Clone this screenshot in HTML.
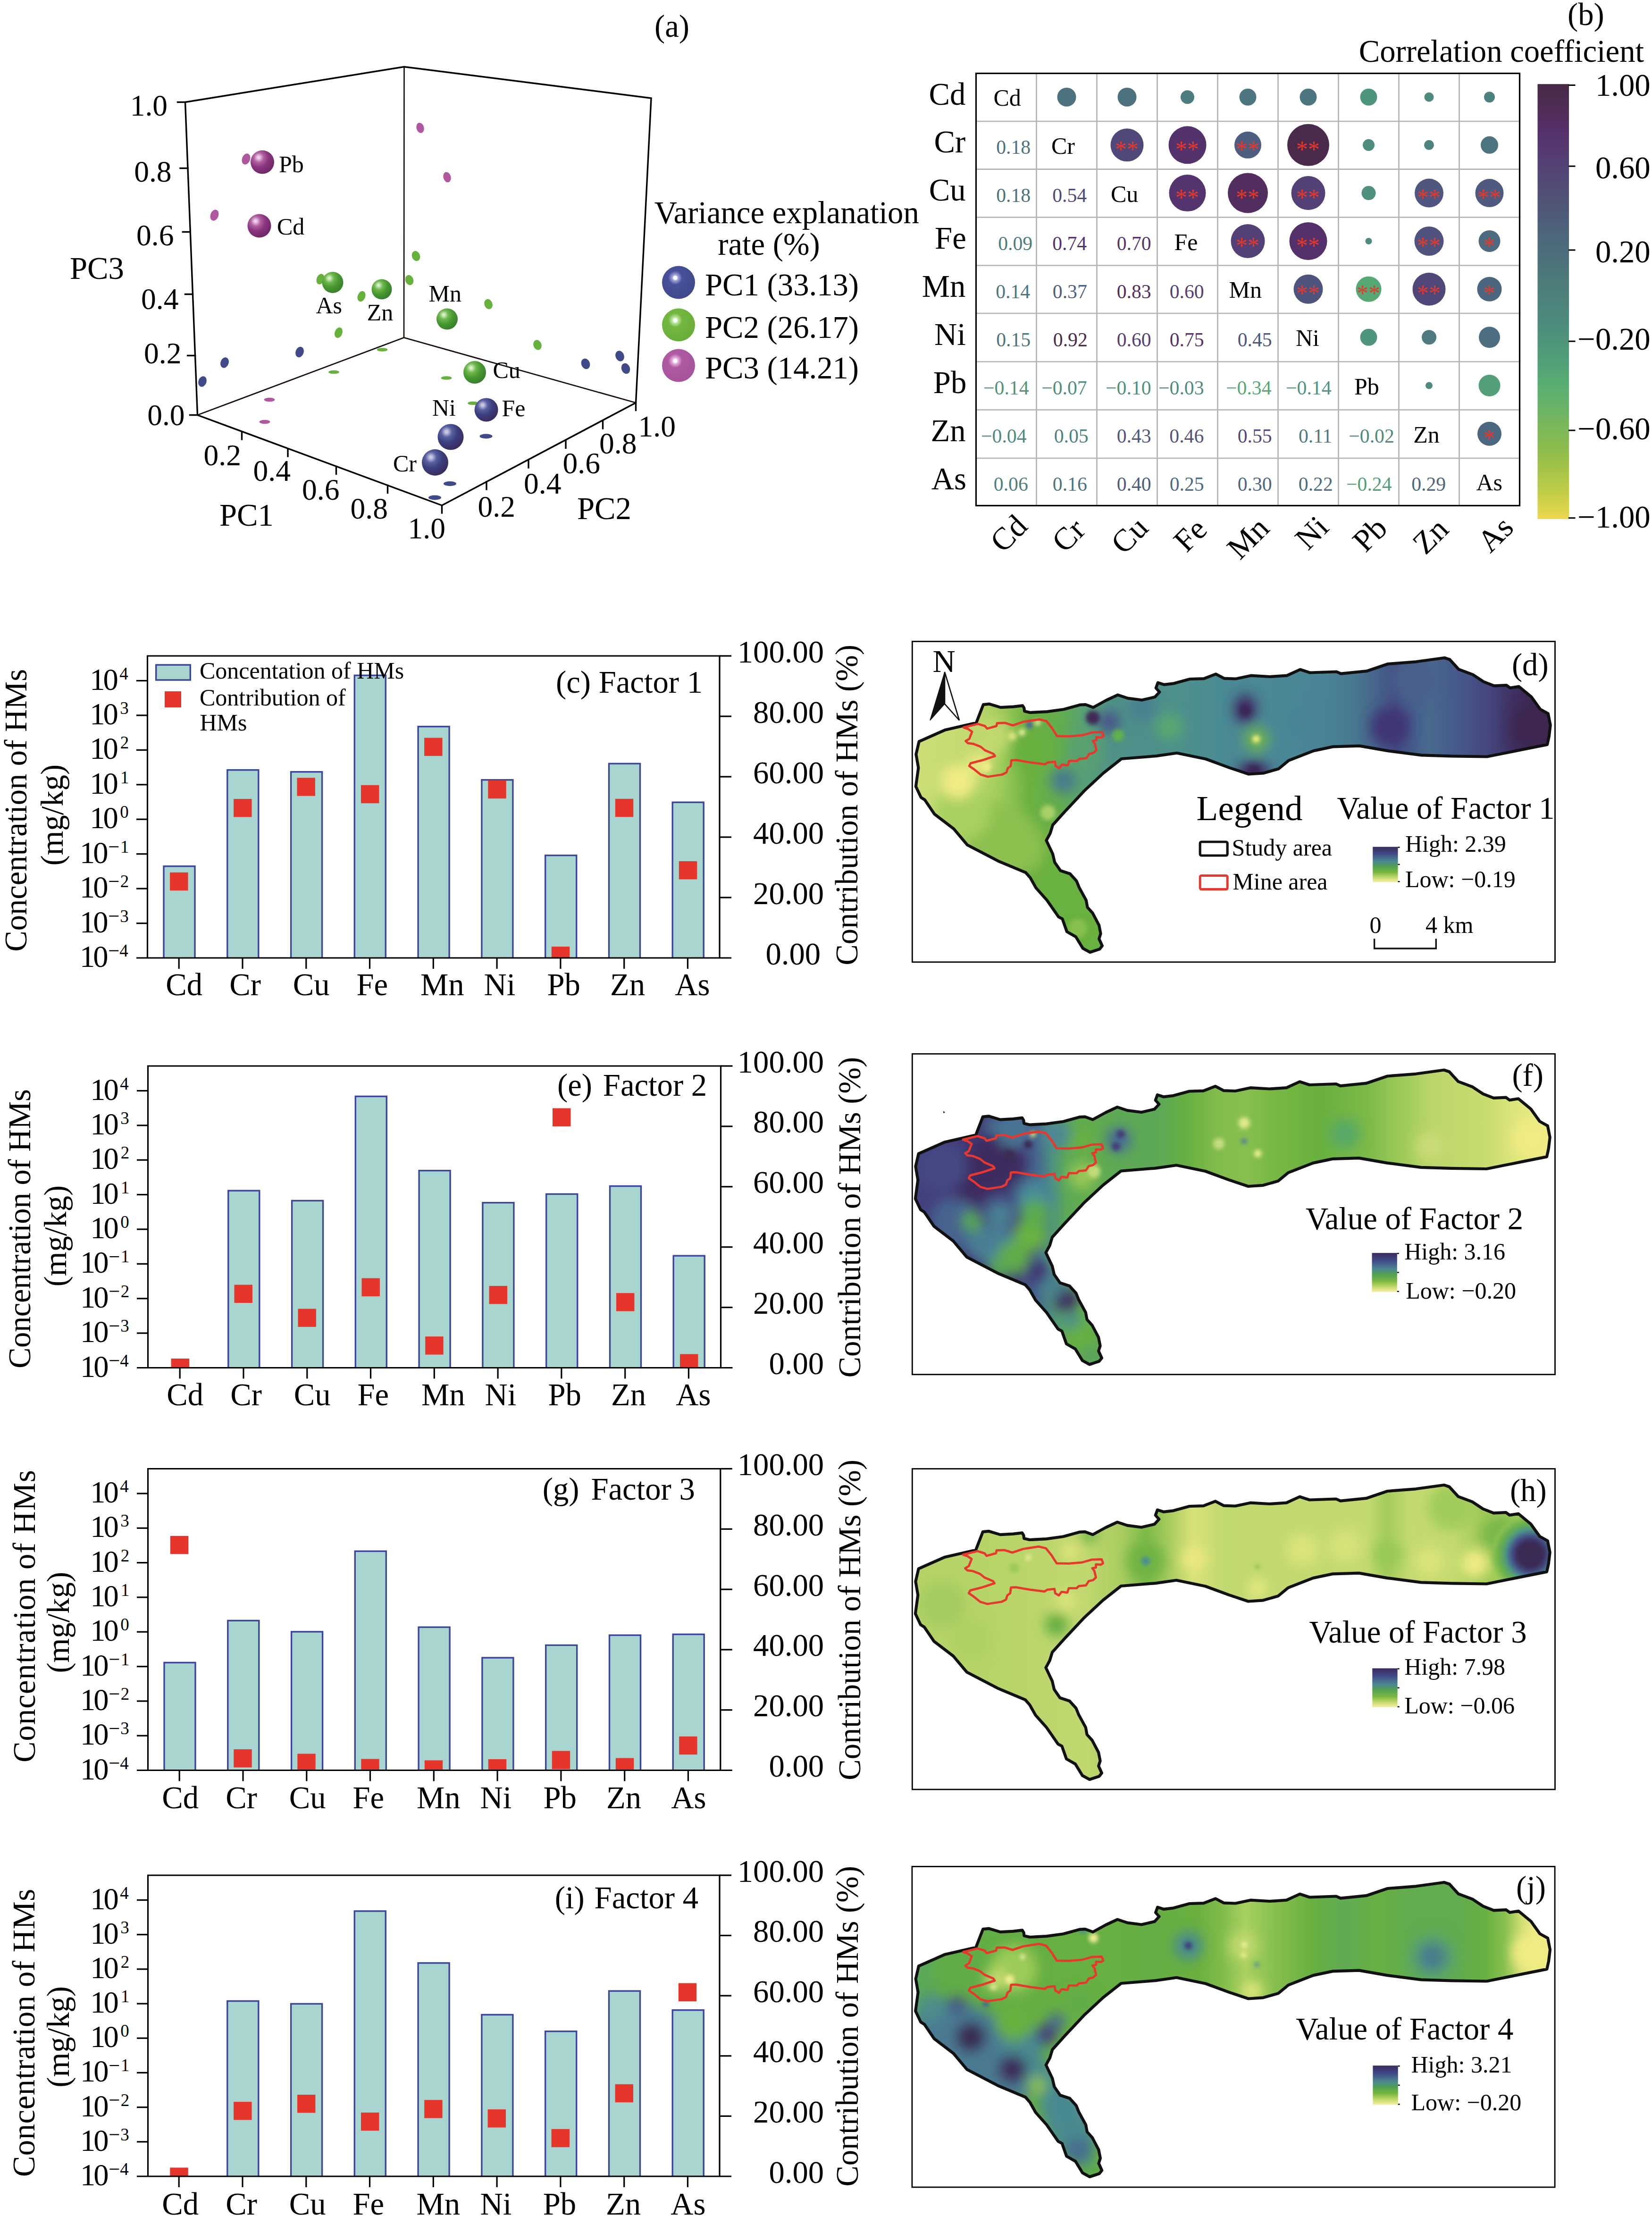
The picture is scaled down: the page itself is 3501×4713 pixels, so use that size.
<!DOCTYPE html>
<html><head><meta charset="utf-8"><title>figure</title><style>
html,body{margin:0;padding:0;background:#fff}
svg{display:block}
text{font-family:"Liberation Serif",serif}
</style></head><body>
<svg width="3501" height="4713" viewBox="0 0 3501 4713">
<rect width="3501" height="4713" fill="#fff"/>
<defs><radialGradient id="sB" cx="0.36" cy="0.32" r="0.75" fx="0.34" fy="0.30"><stop offset="0" stop-color="#c8c8e6"/><stop offset="0.06" stop-color="#c8c8e6"/><stop offset="0.28" stop-color="#5a5fa0"/><stop offset="0.55" stop-color="#3a3f80"/><stop offset="1" stop-color="#3c2858"/></radialGradient><radialGradient id="sG" cx="0.36" cy="0.32" r="0.75" fx="0.34" fy="0.30"><stop offset="0" stop-color="#d8f0c8"/><stop offset="0.06" stop-color="#d8f0c8"/><stop offset="0.28" stop-color="#6fb850"/><stop offset="0.55" stop-color="#4a9a32"/><stop offset="1" stop-color="#357a2a"/></radialGradient><radialGradient id="sP" cx="0.36" cy="0.32" r="0.75" fx="0.34" fy="0.30"><stop offset="0" stop-color="#f0d0ea"/><stop offset="0.06" stop-color="#f0d0ea"/><stop offset="0.28" stop-color="#b060a0"/><stop offset="0.55" stop-color="#8a3580"/><stop offset="1" stop-color="#6a2560"/></radialGradient><radialGradient id="lB" cx="0.40" cy="0.36" r="0.7" fx="0.40" fy="0.36"><stop offset="0" stop-color="#ffffff"/><stop offset="0.07" stop-color="#ffffff"/><stop offset="0.12" stop-color="#a8a8dc"/><stop offset="0.3" stop-color="#47509a"/><stop offset="1" stop-color="#3f4888"/></radialGradient><radialGradient id="lG" cx="0.40" cy="0.36" r="0.7" fx="0.40" fy="0.36"><stop offset="0" stop-color="#ffffff"/><stop offset="0.07" stop-color="#ffffff"/><stop offset="0.12" stop-color="#c0e8a8"/><stop offset="0.3" stop-color="#72b840"/><stop offset="1" stop-color="#68ac38"/></radialGradient><radialGradient id="lP" cx="0.40" cy="0.36" r="0.7" fx="0.40" fy="0.36"><stop offset="0" stop-color="#ffffff"/><stop offset="0.07" stop-color="#ffffff"/><stop offset="0.12" stop-color="#e8b8e0"/><stop offset="0.3" stop-color="#b05aa4"/><stop offset="1" stop-color="#a4529a"/></radialGradient><linearGradient id="cbar" x1="0" y1="0" x2="0" y2="1"><stop offset="0.0000" stop-color="#452a45"/><stop offset="0.0561" stop-color="#4f2d55"/><stop offset="0.1049" stop-color="#55306a"/><stop offset="0.1537" stop-color="#553a72"/><stop offset="0.2024" stop-color="#524575"/><stop offset="0.2512" stop-color="#505075"/><stop offset="0.3000" stop-color="#4e5a78"/><stop offset="0.3488" stop-color="#4c677a"/><stop offset="0.3976" stop-color="#4c707a"/><stop offset="0.4463" stop-color="#4c7a7a"/><stop offset="0.4951" stop-color="#4c827c"/><stop offset="0.5439" stop-color="#4c8a7c"/><stop offset="0.5927" stop-color="#4e947a"/><stop offset="0.6415" stop-color="#52a078"/><stop offset="0.6902" stop-color="#58ae72"/><stop offset="0.7390" stop-color="#68b268"/><stop offset="0.7878" stop-color="#7ab85a"/><stop offset="0.8366" stop-color="#8cbc4e"/><stop offset="0.8854" stop-color="#a4c448"/><stop offset="0.9341" stop-color="#c0cc48"/><stop offset="0.9829" stop-color="#e0d44c"/><stop offset="1.0000" stop-color="#f0d84e"/></linearGradient><clipPath id="clip1390"><rect x="312.5" y="1390" width="1212.5" height="640"/></clipPath><clipPath id="clip2259"><rect x="313.5" y="2259" width="1214.0" height="639.5"/></clipPath><clipPath id="clip3112"><rect x="313.5" y="3112.5" width="1213.3" height="639.0"/></clipPath><clipPath id="clip3974"><rect x="313.5" y="3974" width="1211.5" height="638"/></clipPath><clipPath id="mapclip"><polygon points="1947.7,1571.3 2003.5,1546.7 2068.9,1531.8 2083.9,1493.1 2096.2,1491.8 2120.7,1499.1 2147.9,1497.7 2167.0,1495.3 2170.3,1500.4 2171.1,1507.2 2183.3,1510.0 2218.8,1508.1 2254.2,1503.2 2289.6,1493.6 2300.5,1493.1 2316.8,1499.1 2344.1,1484.1 2368.9,1472.6 2390.0,1479.6 2420.0,1483.5 2447.5,1477.1 2457.3,1466.5 2449.7,1458.0 2453.9,1446.6 2466.6,1450.8 2487.8,1448.3 2521.7,1439.0 2551.4,1438.1 2576.8,1428.4 2594.0,1437.6 2619.0,1438.5 2650.8,1431.7 2691.7,1434.0 2727.3,1431.6 2755.4,1418.8 2776.1,1425.5 2832.4,1423.5 2841.7,1427.6 2896.2,1422.2 2941.2,1407.0 3001.2,1402.3 3061.3,1394.0 3072.6,1397.8 3091.3,1418.4 3121.3,1429.7 3143.9,1444.7 3166.4,1453.3 3192.6,1452.2 3200.2,1457.8 3218.9,1454.8 3245.2,1476.6 3264.0,1502.9 3280.8,1512.3 3285.7,1536.6 3282.7,1561.0 3279.0,1577.9 3226.4,1588.4 3151.4,1603.5 3076.3,1602.3 3012.5,1600.4 2941.2,1591.1 2881.1,1580.6 2824.9,1582.4 2783.6,1591.1 2731.0,1611.7 2709.8,1629.2 2678.0,1638.3 2646.3,1640.5 2605.4,1626.9 2555.6,1608.5 2494.2,1595.8 2449.7,1602.1 2376.7,1608.0 2338.6,1638.0 2297.7,1676.1 2256.9,1719.7 2231.0,1748.3 2225.6,1766.0 2217.4,1781.0 2231.0,1809.6 2235.1,1827.3 2247.4,1845.0 2267.8,1851.8 2281.4,1866.8 2286.9,1880.4 2301.8,1907.7 2304.6,1922.7 2315.5,1934.9 2329.1,1960.8 2332.6,1978.5 2329.1,1989.4 2335.9,2004.4 2330.4,2011.2 2310.0,2018.0 2295.0,2009.8 2280.0,1985.3 2261.0,1974.4 2251.4,1947.2 2243.3,1943.1 2218.8,1907.7 2195.6,1881.8 2183.3,1860.0 2173.8,1849.1 2115.2,1824.6 2049.9,1790.5 2021.3,1756.5 1980.4,1725.2 1960.0,1695.2 1951.8,1689.8 1940.9,1666.6 1946.3,1627.1 1941.4,1598.5"/></clipPath><filter id="bl18" x="-10%" y="-10%" width="120%" height="120%"><feGaussianBlur stdDeviation="13"/></filter><filter id="bl6" x="-10%" y="-10%" width="120%" height="120%"><feGaussianBlur stdDeviation="4"/></filter><linearGradient id="ramp" x1="0" y1="0" x2="0" y2="1"><stop offset="0" stop-color="#3a2a5c"/><stop offset="0.2" stop-color="#3f4a88"/><stop offset="0.42" stop-color="#4a8a90"/><stop offset="0.55" stop-color="#50a050"/><stop offset="0.72" stop-color="#78b840"/><stop offset="0.88" stop-color="#c8dc70"/><stop offset="1" stop-color="#f4f0a0"/></linearGradient><linearGradient id="bd" gradientUnits="userSpaceOnUse" x1="1940" y1="0" x2="3290" y2="0"><stop offset="0.0000" stop-color="#ccde78"/><stop offset="0.0815" stop-color="#c4da72"/><stop offset="0.1333" stop-color="#a0cc5c"/><stop offset="0.1778" stop-color="#6cb242"/><stop offset="0.2296" stop-color="#62ac50"/><stop offset="0.2667" stop-color="#58a078"/><stop offset="0.3111" stop-color="#4f9088"/><stop offset="0.4148" stop-color="#4e908c"/><stop offset="0.4889" stop-color="#4a8a94"/><stop offset="0.5630" stop-color="#4a8896"/><stop offset="0.6370" stop-color="#4a8496"/><stop offset="0.6889" stop-color="#487890"/><stop offset="0.7259" stop-color="#46628a"/><stop offset="0.7556" stop-color="#444c82"/><stop offset="0.7852" stop-color="#46608c"/><stop offset="0.8074" stop-color="#486a8e"/><stop offset="0.8519" stop-color="#46588a"/><stop offset="0.8963" stop-color="#44487e"/><stop offset="0.9407" stop-color="#402f62"/><stop offset="0.9778" stop-color="#3c2850"/><stop offset="1.0000" stop-color="#3c2850"/></linearGradient><linearGradient id="bf" gradientUnits="userSpaceOnUse" x1="1940" y1="0" x2="3290" y2="0"><stop offset="0.0000" stop-color="#44427e"/><stop offset="0.0889" stop-color="#403a78"/><stop offset="0.1630" stop-color="#42407c"/><stop offset="0.1926" stop-color="#46688e"/><stop offset="0.2148" stop-color="#4e9080"/><stop offset="0.2370" stop-color="#5ca858"/><stop offset="0.2667" stop-color="#62ac4c"/><stop offset="0.3111" stop-color="#5ea954"/><stop offset="0.3778" stop-color="#5ca858"/><stop offset="0.4296" stop-color="#68b040"/><stop offset="0.4741" stop-color="#80bc4c"/><stop offset="0.5185" stop-color="#88c050"/><stop offset="0.5630" stop-color="#78b844"/><stop offset="0.6370" stop-color="#68b040"/><stop offset="0.7111" stop-color="#7cba48"/><stop offset="0.7556" stop-color="#98c858"/><stop offset="0.8148" stop-color="#bcd66c"/><stop offset="0.8963" stop-color="#c8dc70"/><stop offset="0.9481" stop-color="#e0e67c"/><stop offset="1.0000" stop-color="#f0ec84"/></linearGradient><linearGradient id="bh" gradientUnits="userSpaceOnUse" x1="1940" y1="0" x2="3290" y2="0"><stop offset="0.0000" stop-color="#b4d268"/><stop offset="0.1185" stop-color="#b6d468"/><stop offset="0.2667" stop-color="#c0d870"/><stop offset="0.3259" stop-color="#a8cc60"/><stop offset="0.3630" stop-color="#7cba48"/><stop offset="0.4000" stop-color="#a8cc60"/><stop offset="0.4370" stop-color="#d8e278"/><stop offset="0.4889" stop-color="#c0d870"/><stop offset="0.7111" stop-color="#c4da70"/><stop offset="0.7407" stop-color="#a4cc5c"/><stop offset="0.7778" stop-color="#c4da70"/><stop offset="0.8444" stop-color="#c4da70"/><stop offset="0.8889" stop-color="#a0ca58"/><stop offset="1.0000" stop-color="#a0ca58"/></linearGradient><linearGradient id="bj" gradientUnits="userSpaceOnUse" x1="1940" y1="0" x2="3290" y2="0"><stop offset="0.0000" stop-color="#58a860"/><stop offset="0.0444" stop-color="#60ac48"/><stop offset="0.2667" stop-color="#68b040"/><stop offset="0.3778" stop-color="#66ae44"/><stop offset="0.4444" stop-color="#6ab040"/><stop offset="0.4815" stop-color="#80bc4c"/><stop offset="0.5185" stop-color="#a8d060"/><stop offset="0.5630" stop-color="#88c050"/><stop offset="0.6222" stop-color="#68b040"/><stop offset="0.6741" stop-color="#60aa54"/><stop offset="0.7259" stop-color="#68b040"/><stop offset="0.7778" stop-color="#62ac50"/><stop offset="0.8519" stop-color="#62ac50"/><stop offset="0.8963" stop-color="#68b040"/><stop offset="0.9259" stop-color="#88c050"/><stop offset="0.9519" stop-color="#d0de74"/><stop offset="0.9704" stop-color="#f0ec84"/><stop offset="1.0000" stop-color="#ecea80"/></linearGradient></defs>
<path d="M856.5,141.5 L856,715.5 M418.5,879.5 L856,715.5 L1347.5,853.5" stroke="#1a0f0a" stroke-width="2.7" fill="none"/>
<path d="M392.5,216.5 L856.5,141.5 L1380,208 L1347.5,853.5 L936.5,1071 L418.5,879.5 Z" stroke="#000" stroke-width="3.4" fill="none" stroke-linecap="square" stroke-linejoin="miter"/>
<path d="M376.5,216.5 L392.5,216.5" stroke="#000" stroke-width="3.4" fill="none" stroke-linecap="square"/>
<path d="M382.0,356.5 L398.0,356.5" stroke="#000" stroke-width="3.4" fill="none" stroke-linecap="square"/>
<path d="M387.3,491.5 L403.3,491.5" stroke="#000" stroke-width="3.4" fill="none" stroke-linecap="square"/>
<path d="M392.5,623.5 L408.5,623.5" stroke="#000" stroke-width="3.4" fill="none" stroke-linecap="square"/>
<path d="M397.6,753.5 L413.6,753.5" stroke="#000" stroke-width="3.4" fill="none" stroke-linecap="square"/>
<path d="M402.5,879.5 L418.5,879.5" stroke="#000" stroke-width="3.4" fill="none" stroke-linecap="square"/>
<path d="M512.5,915 L512.5,931" stroke="#000" stroke-width="3.4" fill="none" stroke-linecap="square"/>
<path d="M610,951 L610,967" stroke="#000" stroke-width="3.4" fill="none" stroke-linecap="square"/>
<path d="M712.5,988.5 L712.5,1004.5" stroke="#000" stroke-width="3.4" fill="none" stroke-linecap="square"/>
<path d="M821.5,1028.5 L821.5,1044.5" stroke="#000" stroke-width="3.4" fill="none" stroke-linecap="square"/>
<path d="M936.5,1071 L936.5,1087" stroke="#000" stroke-width="3.4" fill="none" stroke-linecap="square"/>
<path d="M1031,1021 L1031,1037" stroke="#000" stroke-width="3.4" fill="none" stroke-linecap="square"/>
<path d="M1120,975 L1120,991" stroke="#000" stroke-width="3.4" fill="none" stroke-linecap="square"/>
<path d="M1199,933.5 L1199,949.5" stroke="#000" stroke-width="3.4" fill="none" stroke-linecap="square"/>
<path d="M1277.5,892 L1277.5,908" stroke="#000" stroke-width="3.4" fill="none" stroke-linecap="square"/>
<path d="M1347.5,853.5 L1347.5,869.5" stroke="#000" stroke-width="3.4" fill="none" stroke-linecap="square"/>
<text x="275.7" y="245.0" font-size="63.5">1.0</text>
<text x="284.2" y="385.0" font-size="63.5">0.8</text>
<text x="289.0" y="520.0" font-size="63.5">0.6</text>
<text x="299.1" y="654.5" font-size="63.5">0.4</text>
<text x="305.1" y="770.0" font-size="63.5">0.2</text>
<text x="312.2" y="901.0" font-size="63.5">0.0</text>
<text x="431.5" y="986.0" font-size="63.5">0.2</text>
<text x="536.5" y="1018.5" font-size="63.5">0.4</text>
<text x="640.0" y="1058.5" font-size="63.5">0.6</text>
<text x="742.5" y="1098.5" font-size="63.5">0.8</text>
<text x="864.6" y="1141.0" font-size="63.5">1.0</text>
<text x="1012.5" y="1095.0" font-size="63.5">0.2</text>
<text x="1110.0" y="1046.0" font-size="63.5">0.4</text>
<text x="1192.5" y="1002.5" font-size="63.5">0.6</text>
<text x="1270.0" y="961.0" font-size="63.5">0.8</text>
<text x="1352.6" y="924.5" font-size="63.5">1.0</text>
<text x="148.0" y="591.0" font-size="66.7">PC3</text>
<text x="465.0" y="1114.0" font-size="66.7">PC1</text>
<text x="1223.0" y="1100.0" font-size="66.7">PC2</text>
<text x="1387.0" y="77.5" font-size="66.7">(a)</text>
<ellipse cx="429" cy="808.5" rx="8.5" ry="11.5" fill="#404a88" transform="rotate(20 429 808.5)"/>
<ellipse cx="476" cy="768.5" rx="8.5" ry="11.5" fill="#404a88" transform="rotate(20 476 768.5)"/>
<ellipse cx="635" cy="746" rx="8.5" ry="11.5" fill="#404a88" transform="rotate(20 635 746)"/>
<ellipse cx="1241" cy="771" rx="9" ry="11.5" fill="#404a88" transform="rotate(-20 1241 771)"/>
<ellipse cx="1313.5" cy="754.5" rx="9" ry="11.5" fill="#404a88" transform="rotate(-20 1313.5 754.5)"/>
<ellipse cx="1326" cy="781" rx="9" ry="11.5" fill="#404a88" transform="rotate(-20 1326 781)"/>
<ellipse cx="717.5" cy="705" rx="8" ry="11.5" fill="#66b03c" transform="rotate(20 717.5 705)"/>
<ellipse cx="766" cy="628" rx="8" ry="11.5" fill="#66b03c" transform="rotate(20 766 628)"/>
<ellipse cx="679" cy="591.5" rx="8" ry="11.5" fill="#66b03c" transform="rotate(20 679 591.5)"/>
<ellipse cx="867.5" cy="593.5" rx="8.5" ry="11" fill="#66b03c" transform="rotate(-20 867.5 593.5)"/>
<ellipse cx="881.5" cy="542.5" rx="8.5" ry="11" fill="#66b03c" transform="rotate(-20 881.5 542.5)"/>
<ellipse cx="1035" cy="644.5" rx="8.5" ry="11" fill="#66b03c" transform="rotate(-20 1035 644.5)"/>
<ellipse cx="1139" cy="731" rx="8.5" ry="11" fill="#66b03c" transform="rotate(-20 1139 731)"/>
<ellipse cx="521.5" cy="337" rx="8.5" ry="12" fill="#b0589f" transform="rotate(20 521.5 337)"/>
<ellipse cx="454.5" cy="456" rx="8.5" ry="12" fill="#b0589f" transform="rotate(20 454.5 456)"/>
<ellipse cx="890.5" cy="271" rx="8" ry="11" fill="#b0589f" transform="rotate(-15 890.5 271)"/>
<ellipse cx="947.5" cy="375.5" rx="8" ry="11" fill="#b0589f" transform="rotate(-15 947.5 375.5)"/>
<ellipse cx="810" cy="741" rx="11.5" ry="3.8" fill="#66b03c"/>
<ellipse cx="707.5" cy="788.5" rx="11.5" ry="3.8" fill="#66b03c"/>
<ellipse cx="946" cy="801" rx="11.5" ry="3.8" fill="#66b03c"/>
<ellipse cx="1002.5" cy="854.5" rx="11.5" ry="3.8" fill="#66b03c"/>
<ellipse cx="571" cy="847" rx="11.5" ry="4.2" fill="#b0589f"/>
<ellipse cx="561" cy="894" rx="11.5" ry="4.2" fill="#b0589f"/>
<ellipse cx="1030" cy="924.5" rx="13.5" ry="5" fill="#404a88"/>
<ellipse cx="953.5" cy="1025" rx="13.5" ry="5" fill="#404a88"/>
<ellipse cx="921.5" cy="1054.5" rx="13.5" ry="5" fill="#404a88"/>
<circle cx="556" cy="343.5" r="25" fill="url(#sP)"/>
<circle cx="549.5" cy="478.5" r="25" fill="url(#sP)"/>
<circle cx="705" cy="598.5" r="22.5" fill="url(#sG)"/>
<circle cx="809" cy="613" r="21.5" fill="url(#sG)"/>
<circle cx="947.5" cy="676" r="22.5" fill="url(#sG)"/>
<circle cx="1006" cy="789" r="24" fill="url(#sG)"/>
<circle cx="1030.6" cy="868.4" r="25" fill="url(#sB)"/>
<circle cx="955" cy="926" r="27.5" fill="url(#sB)"/>
<circle cx="922" cy="980" r="28" fill="url(#sB)"/>
<text x="591.0" y="365.0" font-size="50">Pb</text>
<text x="587.0" y="496.5" font-size="50">Cd</text>
<text x="669.5" y="663.5" font-size="50">As</text>
<text x="777.8" y="678.5" font-size="50">Zn</text>
<text x="908.5" y="638.5" font-size="50">Mn</text>
<text x="1044.5" y="801.0" font-size="50">Cu</text>
<text x="916.0" y="881.0" font-size="50">Ni</text>
<text x="1063.5" y="882.0" font-size="50">Fe</text>
<text x="833.0" y="998.5" font-size="50">Cr</text>
<text x="1386.8" y="472.5" font-size="66.7">Variance explanation</text>
<text x="1521.2" y="540.0" font-size="66.7">rate (%)</text>
<circle cx="1438" cy="598.5" r="35" fill="url(#lB)"/>
<text x="1494.0" y="626.0" font-size="66.7">PC1 (33.13)</text>
<circle cx="1438" cy="688.5" r="35" fill="url(#lG)"/>
<text x="1494.0" y="716.0" font-size="66.7">PC2 (26.17)</text>
<circle cx="1438" cy="774.5" r="35" fill="url(#lP)"/>
<text x="1494.0" y="802.0" font-size="66.7">PC3 (14.21)</text>
<path d="M2196.5,155.5 V1071.5 M2324.5,155.5 V1071.5 M2452.5,155.5 V1071.5 M2580.5,155.5 V1071.5 M2708.5,155.5 V1071.5 M2836.5,155.5 V1071.5 M2964.5,155.5 V1071.5 M3092.5,155.5 V1071.5 M2068.5,257 H3220.5 M2068.5,358.7 H3220.5 M2068.5,460.5 H3220.5 M2068.5,562.5 H3220.5 M2068.5,664 H3220.5 M2068.5,766.5 H3220.5 M2068.5,868.5 H3220.5 M2068.5,971 H3220.5 " stroke="#b9b1ad" stroke-width="2.7" fill="none"/>
<rect x="2068.5" y="155.5" width="1152.0" height="916.0" fill="none" stroke="#000" stroke-width="3.2"/>
<text x="1968.5" y="221.8" font-size="66.7">Cd</text>
<text x="2105.5" y="224.2" font-size="50">Cd</text>
<circle cx="2260.5" cy="205.75" r="20" fill="#4c7280"/>
<circle cx="2388.5" cy="205.75" r="20" fill="#4c7280"/>
<circle cx="2516.5" cy="205.75" r="14.5" fill="#4d7d80"/>
<circle cx="2644.5" cy="205.75" r="18" fill="#4d7780"/>
<circle cx="2772.5" cy="205.75" r="18" fill="#4c7680"/>
<circle cx="2900.5" cy="205.75" r="18" fill="#4f947c"/>
<circle cx="3028.5" cy="205.75" r="10" fill="#4e8b7f"/>
<circle cx="3156.5" cy="205.75" r="11.5" fill="#4d8180"/>
<text x="1979.5" y="323.4" font-size="66.7">Cr</text>
<text x="2111.2" y="326.4" font-size="41.7" fill="#4c7280">0.18</text>
<text x="2228.0" y="325.9" font-size="50">Cr</text>
<circle cx="2388.5" cy="307.35" r="35" fill="#51487a"/>
<text x="2363.0" y="332.9" font-size="50" fill="#e8382a">**</text>
<circle cx="2516.5" cy="307.35" r="40" fill="#54326b"/>
<text x="2491.0" y="332.9" font-size="50" fill="#e8382a">**</text>
<circle cx="2644.5" cy="307.35" r="28.5" fill="#4d5e80"/>
<text x="2619.0" y="332.9" font-size="50" fill="#e8382a">**</text>
<circle cx="2772.5" cy="307.35" r="44.5" fill="#4b2b4c"/>
<text x="2747.0" y="332.9" font-size="50" fill="#e8382a">**</text>
<circle cx="2900.5" cy="307.35" r="12.5" fill="#4f8e7f"/>
<circle cx="3028.5" cy="307.35" r="10.5" fill="#4e8280"/>
<circle cx="3156.5" cy="307.35" r="18.5" fill="#4c7580"/>
<text x="1968.8" y="425.1" font-size="66.7">Cu</text>
<text x="2111.2" y="428.1" font-size="41.7" fill="#4c7280">0.18</text>
<text x="2230.2" y="428.1" font-size="41.7" fill="#51487a">0.54</text>
<text x="2354.0" y="427.6" font-size="50">Cu</text>
<circle cx="2516.5" cy="409.1" r="39" fill="#54346e"/>
<text x="2491.0" y="434.6" font-size="50" fill="#e8382a">**</text>
<circle cx="2644.5" cy="409.1" r="42.5" fill="#522d5f"/>
<text x="2619.0" y="434.6" font-size="50" fill="#e8382a">**</text>
<circle cx="2772.5" cy="409.1" r="36" fill="#524076"/>
<text x="2747.0" y="434.6" font-size="50" fill="#e8382a">**</text>
<circle cx="2900.5" cy="409.1" r="15" fill="#4f907e"/>
<circle cx="3028.5" cy="409.1" r="30.5" fill="#4f567f"/>
<text x="3003.0" y="434.6" font-size="50" fill="#e8382a">**</text>
<circle cx="3156.5" cy="409.1" r="30" fill="#4e5a80"/>
<text x="3131.0" y="434.6" font-size="50" fill="#e8382a">**</text>
<text x="1981.1" y="527.0" font-size="66.7">Fe</text>
<text x="2115.2" y="530.0" font-size="41.7" fill="#4d7d80">0.09</text>
<text x="2230.2" y="530.0" font-size="41.7" fill="#54326b">0.74</text>
<text x="2366.7" y="530.0" font-size="41.7" fill="#54346e">0.70</text>
<text x="2488.5" y="529.5" font-size="50">Fe</text>
<circle cx="2644.5" cy="511.0" r="36" fill="#524076"/>
<text x="2619.0" y="536.5" font-size="50" fill="#e8382a">**</text>
<circle cx="2772.5" cy="511.0" r="40" fill="#54316a"/>
<text x="2747.0" y="536.5" font-size="50" fill="#e8382a">**</text>
<circle cx="2900.5" cy="511.0" r="7" fill="#4e8a7f"/>
<circle cx="3028.5" cy="511.0" r="31" fill="#4f537e"/>
<text x="3003.0" y="536.5" font-size="50" fill="#e8382a">**</text>
<circle cx="3156.5" cy="511.0" r="23" fill="#4c6b80"/>
<text x="3143.5" y="536.5" font-size="50" fill="#e8382a">*</text>
<text x="1953.8" y="628.8" font-size="66.7">Mn</text>
<text x="2110.2" y="631.8" font-size="41.7" fill="#4d7780">0.14</text>
<text x="2230.8" y="631.8" font-size="41.7" fill="#4d5e80">0.37</text>
<text x="2366.7" y="631.8" font-size="41.7" fill="#522d5f">0.83</text>
<text x="2478.7" y="631.8" font-size="41.7" fill="#524076">0.60</text>
<text x="2604.5" y="631.2" font-size="50">Mn</text>
<circle cx="2772.5" cy="612.75" r="31" fill="#4f547e"/>
<text x="2747.0" y="638.2" font-size="50" fill="#e8382a">**</text>
<circle cx="2900.5" cy="612.75" r="27" fill="#56a974"/>
<text x="2875.0" y="638.2" font-size="50" fill="#e8382a">**</text>
<circle cx="3028.5" cy="612.75" r="35" fill="#514779"/>
<text x="3003.0" y="638.2" font-size="50" fill="#e8382a">**</text>
<circle cx="3156.5" cy="612.75" r="26" fill="#4c6680"/>
<text x="3143.5" y="638.2" font-size="50" fill="#e8382a">*</text>
<text x="1980.1" y="730.8" font-size="66.7">Ni</text>
<text x="2111.2" y="733.8" font-size="41.7" fill="#4c7680">0.15</text>
<text x="2231.8" y="733.8" font-size="41.7" fill="#4b2b4c">0.92</text>
<text x="2366.7" y="733.8" font-size="41.7" fill="#524076">0.60</text>
<text x="2478.7" y="733.8" font-size="41.7" fill="#54316a">0.75</text>
<text x="2622.7" y="733.8" font-size="41.7" fill="#4f547e">0.45</text>
<text x="2746.0" y="733.2" font-size="50">Ni</text>
<circle cx="2900.5" cy="714.75" r="18" fill="#4f947c"/>
<circle cx="3028.5" cy="714.75" r="15.5" fill="#4d7b80"/>
<circle cx="3156.5" cy="714.75" r="22.5" fill="#4c6e80"/>
<text x="1977.8" y="833.0" font-size="66.7">Pb</text>
<text x="2084.1" y="836.0" font-size="41.7" fill="#4f947c">−0.14</text>
<text x="2207.2" y="836.0" font-size="41.7" fill="#4f8e7f">−0.07</text>
<text x="2343.1" y="836.0" font-size="41.7" fill="#4f907e">−0.10</text>
<text x="2455.1" y="836.0" font-size="41.7" fill="#4e8a7f">−0.03</text>
<text x="2598.1" y="836.0" font-size="41.7" fill="#56a974">−0.34</text>
<text x="2725.1" y="836.0" font-size="41.7" fill="#4f947c">−0.14</text>
<text x="2870.0" y="835.5" font-size="50">Pb</text>
<circle cx="3028.5" cy="817.0" r="7.5" fill="#4e8a80"/>
<circle cx="3156.5" cy="817.0" r="23" fill="#529f78"/>
<text x="1972.5" y="935.2" font-size="66.7">Zn</text>
<text x="2079.1" y="938.2" font-size="41.7" fill="#4e8b7f">−0.04</text>
<text x="2233.7" y="938.2" font-size="41.7" fill="#4e8280">0.05</text>
<text x="2366.7" y="938.2" font-size="41.7" fill="#4f567f">0.43</text>
<text x="2478.3" y="938.2" font-size="41.7" fill="#4f537e">0.46</text>
<text x="2622.7" y="938.2" font-size="41.7" fill="#514779">0.55</text>
<text x="2752.0" y="938.2" font-size="41.7" fill="#4d7b80">0.11</text>
<text x="2858.3" y="938.2" font-size="41.7" fill="#4e8a80">−0.02</text>
<text x="2995.2" y="937.8" font-size="50">Zn</text>
<circle cx="3156.5" cy="919.25" r="25.5" fill="#4c6780"/>
<text x="3143.5" y="944.8" font-size="50" fill="#e8382a">*</text>
<text x="1973.8" y="1036.8" font-size="66.7">As</text>
<text x="2105.8" y="1039.8" font-size="41.7" fill="#4d8180">0.06</text>
<text x="2230.8" y="1039.8" font-size="41.7" fill="#4c7580">0.16</text>
<text x="2366.7" y="1039.8" font-size="41.7" fill="#4e5a80">0.40</text>
<text x="2478.7" y="1039.8" font-size="41.7" fill="#4c6b80">0.25</text>
<text x="2622.7" y="1039.8" font-size="41.7" fill="#4c6680">0.30</text>
<text x="2751.8" y="1039.8" font-size="41.7" fill="#4c6e80">0.22</text>
<text x="2853.1" y="1039.8" font-size="41.7" fill="#529f78">−0.24</text>
<text x="2991.2" y="1039.8" font-size="41.7" fill="#4c6780">0.29</text>
<text x="3128.5" y="1039.2" font-size="50">As</text>
<text transform="translate(2140.5,1132) rotate(-45)" x="-39.9" y="19" font-size="66.7">Cd</text>
<text transform="translate(2267.5,1136) rotate(-45)" x="-34.4" y="19" font-size="66.7">Cr</text>
<text transform="translate(2396.5,1136) rotate(-45)" x="-39.7" y="19" font-size="66.7">Cu</text>
<text transform="translate(2524.5,1136) rotate(-45)" x="-33.2" y="19" font-size="66.7">Fe</text>
<text transform="translate(2647.5,1142) rotate(-45)" x="-46.9" y="19" font-size="66.7">Mn</text>
<text transform="translate(2782.5,1131) rotate(-45)" x="-33.7" y="19" font-size="66.7">Ni</text>
<text transform="translate(2905.0,1135) rotate(-45)" x="-34.9" y="19" font-size="66.7">Pb</text>
<text transform="translate(3034.5,1137.5) rotate(-45)" x="-38.0" y="19" font-size="66.7">Zn</text>
<text transform="translate(3170.5,1135) rotate(-45)" x="-36.2" y="19" font-size="66.7">As</text>
<rect x="3258.5" y="178.2" width="66.5" height="921.8" fill="url(#cbar)"/>
<path d="M3324,180.5 H3338.5" stroke="#000" stroke-width="3"/>
<text x="3380.9" y="203.0" font-size="66.7">1.00</text>
<path d="M3324,352.2 H3338.5" stroke="#000" stroke-width="3"/>
<text x="3380.9" y="378.3" font-size="66.7">0.60</text>
<path d="M3324,529.9 H3338.5" stroke="#000" stroke-width="3"/>
<text x="3380.9" y="556.0" font-size="66.7">0.20</text>
<path d="M3324,723.2 H3338.5" stroke="#000" stroke-width="3"/>
<text x="3343.3" y="741.2" font-size="66.7">−0.20</text>
<path d="M3324,912 H3338.5" stroke="#000" stroke-width="3"/>
<text x="3343.3" y="931.4" font-size="66.7">−0.60</text>
<path d="M3324,1097.7 H3338.5" stroke="#000" stroke-width="3"/>
<text x="3343.3" y="1118.0" font-size="66.7">−1.00</text>
<text x="3322.0" y="52.5" font-size="66.7">(b)</text>
<text x="2879.8" y="131.0" font-size="66.7">Correlation coefficient</text>
<rect x="347.0" y="1835.7" width="66" height="200.0" fill="#a9d5d1" stroke="#3c479b" stroke-width="3.4" clip-path="url(#clip1390)"/>
<rect x="481.8" y="1631.7" width="66" height="404.0" fill="#a9d5d1" stroke="#3c479b" stroke-width="3.4" clip-path="url(#clip1390)"/>
<rect x="616.6" y="1635.7" width="66" height="400.0" fill="#a9d5d1" stroke="#3c479b" stroke-width="3.4" clip-path="url(#clip1390)"/>
<rect x="751.3" y="1431.2" width="66" height="604.5" fill="#a9d5d1" stroke="#3c479b" stroke-width="3.4" clip-path="url(#clip1390)"/>
<rect x="886.1" y="1539.7" width="66" height="496.0" fill="#a9d5d1" stroke="#3c479b" stroke-width="3.4" clip-path="url(#clip1390)"/>
<rect x="1020.9" y="1652.7" width="66" height="383.0" fill="#a9d5d1" stroke="#3c479b" stroke-width="3.4" clip-path="url(#clip1390)"/>
<rect x="1155.7" y="1812.7" width="66" height="223.0" fill="#a9d5d1" stroke="#3c479b" stroke-width="3.4" clip-path="url(#clip1390)"/>
<rect x="1290.5" y="1618.2" width="66" height="417.5" fill="#a9d5d1" stroke="#3c479b" stroke-width="3.4" clip-path="url(#clip1390)"/>
<rect x="1425.2" y="1700.2" width="66" height="335.5" fill="#a9d5d1" stroke="#3c479b" stroke-width="3.4" clip-path="url(#clip1390)"/>
<rect x="330.7" y="1409" width="72.6" height="32" fill="#a9d5d1" stroke="#3c479b" stroke-width="3.4"/>
<rect x="349" y="1465" width="35" height="34" fill="#e6352b"/>
<text x="423.0" y="1437.5" font-size="50">Concentation of HMs</text>
<text x="423.0" y="1495.0" font-size="50">Contribution of</text>
<text x="423.5" y="1547.5" font-size="50">HMs</text>
<rect x="360.1" y="1848.8" width="38.4" height="38.4" fill="#e6352b" clip-path="url(#clip1390)"/>
<rect x="495.1" y="1693.0" width="38.4" height="38.4" fill="#e6352b" clip-path="url(#clip1390)"/>
<rect x="629.5" y="1648.3" width="38.4" height="38.4" fill="#e6352b" clip-path="url(#clip1390)"/>
<rect x="765.0" y="1663.8" width="38.4" height="38.4" fill="#e6352b" clip-path="url(#clip1390)"/>
<rect x="899.1" y="1563.5" width="38.4" height="38.4" fill="#e6352b" clip-path="url(#clip1390)"/>
<rect x="1034.3" y="1653.8" width="38.4" height="38.4" fill="#e6352b" clip-path="url(#clip1390)"/>
<rect x="1168.8" y="2006.0" width="38.4" height="38.4" fill="#e6352b" clip-path="url(#clip1390)"/>
<rect x="1303.8" y="1692.8" width="38.4" height="38.4" fill="#e6352b" clip-path="url(#clip1390)"/>
<rect x="1438.8" y="1825.0" width="38.4" height="38.4" fill="#e6352b" clip-path="url(#clip1390)"/>
<path d="M312.5,2030 V1390 H1525 V2030" stroke="#000" stroke-width="3.2" fill="none"/>
<path d="M289.0,2030 H1550" stroke="#000" stroke-width="3.2" fill="none"/>
<path d="M289.0,1442.5 H312.5" stroke="#000" stroke-width="3.2" fill="none"/>
<text x="253.3" y="1439.5" font-size="37">4</text>
<text x="190.3" y="1461.5" font-size="64.5" letter-spacing="-4">10</text>
<path d="M289.0,1515.9 H312.5" stroke="#000" stroke-width="3.2" fill="none"/>
<text x="254.2" y="1512.9" font-size="37">3</text>
<text x="190.3" y="1534.9" font-size="64.5" letter-spacing="-4">10</text>
<path d="M289.0,1589.4 H312.5" stroke="#000" stroke-width="3.2" fill="none"/>
<text x="254.7" y="1586.4" font-size="37">2</text>
<text x="190.3" y="1608.4" font-size="64.5" letter-spacing="-4">10</text>
<path d="M289.0,1662.8 H312.5" stroke="#000" stroke-width="3.2" fill="none"/>
<text x="254.9" y="1659.8" font-size="37">1</text>
<text x="190.3" y="1681.8" font-size="64.5" letter-spacing="-4">10</text>
<path d="M289.0,1736.2 H312.5" stroke="#000" stroke-width="3.2" fill="none"/>
<text x="254.2" y="1733.2" font-size="37">0</text>
<text x="190.3" y="1755.2" font-size="64.5" letter-spacing="-4">10</text>
<path d="M289.0,1809.7 H312.5" stroke="#000" stroke-width="3.2" fill="none"/>
<text x="254.9" y="1806.7" font-size="37">1</text>
<rect x="231.4" y="1793.3" width="19.9" height="2.3" fill="#000"/>
<text x="168.9" y="1828.7" font-size="64.5" letter-spacing="-4">10</text>
<path d="M289.0,1883.1 H312.5" stroke="#000" stroke-width="3.2" fill="none"/>
<text x="254.7" y="1880.1" font-size="37">2</text>
<rect x="231.4" y="1866.7" width="19.9" height="2.3" fill="#000"/>
<text x="168.9" y="1902.1" font-size="64.5" letter-spacing="-4">10</text>
<path d="M289.0,1956.6 H312.5" stroke="#000" stroke-width="3.2" fill="none"/>
<text x="254.2" y="1953.6" font-size="37">3</text>
<rect x="231.4" y="1940.2" width="19.9" height="2.3" fill="#000"/>
<text x="168.9" y="1975.6" font-size="64.5" letter-spacing="-4">10</text>
<text x="253.3" y="2027.0" font-size="37">4</text>
<rect x="231.4" y="2013.6" width="19.9" height="2.3" fill="#000"/>
<text x="168.9" y="2049.0" font-size="64.5" letter-spacing="-4">10</text>
<path d="M1525,1390.0 H1550" stroke="#000" stroke-width="3.2" fill="none"/>
<text x="1562.7" y="1403.5" font-size="66.7">100.00</text>
<path d="M1525,1518.0 H1550" stroke="#000" stroke-width="3.2" fill="none"/>
<text x="1596.1" y="1531.5" font-size="66.7">80.00</text>
<path d="M1525,1646.0 H1550" stroke="#000" stroke-width="3.2" fill="none"/>
<text x="1596.1" y="1659.5" font-size="66.7">60.00</text>
<path d="M1525,1774.0 H1550" stroke="#000" stroke-width="3.2" fill="none"/>
<text x="1596.1" y="1787.5" font-size="66.7">40.00</text>
<path d="M1525,1902.0 H1550" stroke="#000" stroke-width="3.2" fill="none"/>
<text x="1596.1" y="1915.5" font-size="66.7">20.00</text>
<text x="1622.4" y="2043.5" font-size="66.7">0.00</text>
<path d="M379.2,2030 V2053" stroke="#000" stroke-width="3.2" fill="none"/>
<text x="351.3" y="2109.0" font-size="66.7">Cd</text>
<path d="M514.0,2030 V2053" stroke="#000" stroke-width="3.2" fill="none"/>
<text x="486.3" y="2109.0" font-size="66.7">Cr</text>
<path d="M648.8,2030 V2053" stroke="#000" stroke-width="3.2" fill="none"/>
<text x="620.8" y="2109.0" font-size="66.7">Cu</text>
<path d="M783.5,2030 V2053" stroke="#000" stroke-width="3.2" fill="none"/>
<text x="755.5" y="2109.0" font-size="66.7">Fe</text>
<path d="M918.3,2030 V2053" stroke="#000" stroke-width="3.2" fill="none"/>
<text x="890.9" y="2109.0" font-size="66.7">Mn</text>
<path d="M1053.1,2030 V2053" stroke="#000" stroke-width="3.2" fill="none"/>
<text x="1025.5" y="2109.0" font-size="66.7">Ni</text>
<path d="M1187.9,2030 V2053" stroke="#000" stroke-width="3.2" fill="none"/>
<text x="1159.5" y="2109.0" font-size="66.7">Pb</text>
<path d="M1322.7,2030 V2053" stroke="#000" stroke-width="3.2" fill="none"/>
<text x="1293.0" y="2109.0" font-size="66.7">Zn</text>
<path d="M1457.4,2030 V2053" stroke="#000" stroke-width="3.2" fill="none"/>
<text x="1430.3" y="2109.0" font-size="66.7">As</text>
<text x="1178.0" y="1467.5" font-size="66.7">(c) Factor 1</text>
<text transform="translate(56,1717) rotate(-90)" x="-299.7" y="0" font-size="66.7" textLength="598.9" lengthAdjust="spacing">Concentration of HMs</text>
<text transform="translate(132.5,1727) rotate(-90)" x="-107.6" y="0" font-size="66.7">(mg/kg)</text>
<text transform="translate(1817,1706.0) rotate(-90)" x="-339.8" y="0" font-size="66.7">Contribution of HMs (%)</text>
<rect x="483.8" y="2523.2" width="66" height="381.0" fill="#a9d5d1" stroke="#3c479b" stroke-width="3.4" clip-path="url(#clip2259)"/>
<rect x="618.6" y="2544.4" width="66" height="359.8" fill="#a9d5d1" stroke="#3c479b" stroke-width="3.4" clip-path="url(#clip2259)"/>
<rect x="753.3" y="2323.4" width="66" height="580.8" fill="#a9d5d1" stroke="#3c479b" stroke-width="3.4" clip-path="url(#clip2259)"/>
<rect x="888.1" y="2480.7" width="66" height="423.5" fill="#a9d5d1" stroke="#3c479b" stroke-width="3.4" clip-path="url(#clip2259)"/>
<rect x="1022.9" y="2548.7" width="66" height="355.5" fill="#a9d5d1" stroke="#3c479b" stroke-width="3.4" clip-path="url(#clip2259)"/>
<rect x="1157.7" y="2530.4" width="66" height="373.8" fill="#a9d5d1" stroke="#3c479b" stroke-width="3.4" clip-path="url(#clip2259)"/>
<rect x="1292.5" y="2513.5" width="66" height="390.7" fill="#a9d5d1" stroke="#3c479b" stroke-width="3.4" clip-path="url(#clip2259)"/>
<rect x="1427.2" y="2661.2" width="66" height="243.0" fill="#a9d5d1" stroke="#3c479b" stroke-width="3.4" clip-path="url(#clip2259)"/>
<rect x="362.6" y="2879.0" width="38.4" height="38.4" fill="#e6352b" clip-path="url(#clip2259)"/>
<rect x="496.5" y="2722.6" width="38.4" height="38.4" fill="#e6352b" clip-path="url(#clip2259)"/>
<rect x="631.5" y="2773.5" width="38.4" height="38.4" fill="#e6352b" clip-path="url(#clip2259)"/>
<rect x="766.5" y="2708.7" width="38.4" height="38.4" fill="#e6352b" clip-path="url(#clip2259)"/>
<rect x="901.2" y="2832.2" width="38.4" height="38.4" fill="#e6352b" clip-path="url(#clip2259)"/>
<rect x="1036.6" y="2725.0" width="38.4" height="38.4" fill="#e6352b" clip-path="url(#clip2259)"/>
<rect x="1171.0" y="2348.5" width="38.4" height="38.4" fill="#e6352b" clip-path="url(#clip2259)"/>
<rect x="1306.0" y="2740.2" width="38.4" height="38.4" fill="#e6352b" clip-path="url(#clip2259)"/>
<rect x="1441.0" y="2869.5" width="38.4" height="38.4" fill="#e6352b" clip-path="url(#clip2259)"/>
<path d="M313.5,2898.5 V2259 H1527.5 V2898.5" stroke="#000" stroke-width="3.2" fill="none"/>
<path d="M290.0,2898.5 H1552.5" stroke="#000" stroke-width="3.2" fill="none"/>
<path d="M290.0,2311.5 H313.5" stroke="#000" stroke-width="3.2" fill="none"/>
<text x="254.3" y="2308.5" font-size="37">4</text>
<text x="191.3" y="2330.5" font-size="64.5" letter-spacing="-4">10</text>
<path d="M290.0,2384.9 H313.5" stroke="#000" stroke-width="3.2" fill="none"/>
<text x="255.2" y="2381.9" font-size="37">3</text>
<text x="191.3" y="2403.9" font-size="64.5" letter-spacing="-4">10</text>
<path d="M290.0,2458.2 H313.5" stroke="#000" stroke-width="3.2" fill="none"/>
<text x="255.7" y="2455.2" font-size="37">2</text>
<text x="191.3" y="2477.2" font-size="64.5" letter-spacing="-4">10</text>
<path d="M290.0,2531.6 H313.5" stroke="#000" stroke-width="3.2" fill="none"/>
<text x="255.9" y="2528.6" font-size="37">1</text>
<text x="191.3" y="2550.6" font-size="64.5" letter-spacing="-4">10</text>
<path d="M290.0,2605.0 H313.5" stroke="#000" stroke-width="3.2" fill="none"/>
<text x="255.2" y="2602.0" font-size="37">0</text>
<text x="191.3" y="2624.0" font-size="64.5" letter-spacing="-4">10</text>
<path d="M290.0,2678.4 H313.5" stroke="#000" stroke-width="3.2" fill="none"/>
<text x="255.9" y="2675.4" font-size="37">1</text>
<rect x="232.4" y="2662.0" width="19.9" height="2.3" fill="#000"/>
<text x="169.9" y="2697.4" font-size="64.5" letter-spacing="-4">10</text>
<path d="M290.0,2751.8 H313.5" stroke="#000" stroke-width="3.2" fill="none"/>
<text x="255.7" y="2748.8" font-size="37">2</text>
<rect x="232.4" y="2735.3" width="19.9" height="2.3" fill="#000"/>
<text x="169.9" y="2770.8" font-size="64.5" letter-spacing="-4">10</text>
<path d="M290.0,2825.1 H313.5" stroke="#000" stroke-width="3.2" fill="none"/>
<text x="255.2" y="2822.1" font-size="37">3</text>
<rect x="232.4" y="2808.7" width="19.9" height="2.3" fill="#000"/>
<text x="169.9" y="2844.1" font-size="64.5" letter-spacing="-4">10</text>
<text x="254.3" y="2895.5" font-size="37">4</text>
<rect x="232.4" y="2882.1" width="19.9" height="2.3" fill="#000"/>
<text x="169.9" y="2917.5" font-size="64.5" letter-spacing="-4">10</text>
<path d="M1527.5,2259.0 H1552.5" stroke="#000" stroke-width="3.2" fill="none"/>
<text x="1562.7" y="2272.5" font-size="66.7">100.00</text>
<path d="M1527.5,2386.9 H1552.5" stroke="#000" stroke-width="3.2" fill="none"/>
<text x="1596.1" y="2400.4" font-size="66.7">80.00</text>
<path d="M1527.5,2514.8 H1552.5" stroke="#000" stroke-width="3.2" fill="none"/>
<text x="1596.1" y="2528.3" font-size="66.7">60.00</text>
<path d="M1527.5,2642.7 H1552.5" stroke="#000" stroke-width="3.2" fill="none"/>
<text x="1596.1" y="2656.2" font-size="66.7">40.00</text>
<path d="M1527.5,2770.6 H1552.5" stroke="#000" stroke-width="3.2" fill="none"/>
<text x="1596.1" y="2784.1" font-size="66.7">20.00</text>
<text x="1629.4" y="2912.0" font-size="66.7">0.00</text>
<path d="M381.2,2898.5 V2921.5" stroke="#000" stroke-width="3.2" fill="none"/>
<text x="353.3" y="2977.5" font-size="66.7">Cd</text>
<path d="M516.0,2898.5 V2921.5" stroke="#000" stroke-width="3.2" fill="none"/>
<text x="488.3" y="2977.5" font-size="66.7">Cr</text>
<path d="M650.8,2898.5 V2921.5" stroke="#000" stroke-width="3.2" fill="none"/>
<text x="622.8" y="2977.5" font-size="66.7">Cu</text>
<path d="M785.5,2898.5 V2921.5" stroke="#000" stroke-width="3.2" fill="none"/>
<text x="757.5" y="2977.5" font-size="66.7">Fe</text>
<path d="M920.3,2898.5 V2921.5" stroke="#000" stroke-width="3.2" fill="none"/>
<text x="892.9" y="2977.5" font-size="66.7">Mn</text>
<path d="M1055.1,2898.5 V2921.5" stroke="#000" stroke-width="3.2" fill="none"/>
<text x="1027.5" y="2977.5" font-size="66.7">Ni</text>
<path d="M1189.9,2898.5 V2921.5" stroke="#000" stroke-width="3.2" fill="none"/>
<text x="1161.5" y="2977.5" font-size="66.7">Pb</text>
<path d="M1324.7,2898.5 V2921.5" stroke="#000" stroke-width="3.2" fill="none"/>
<text x="1295.0" y="2977.5" font-size="66.7">Zn</text>
<path d="M1459.4,2898.5 V2921.5" stroke="#000" stroke-width="3.2" fill="none"/>
<text x="1432.3" y="2977.5" font-size="66.7">As</text>
<text x="1181.0" y="2321.7" font-size="66.7">(e)</text>
<text x="1277.8" y="2321.7" font-size="66.7">Factor 2</text>
<text transform="translate(63.5,2603.9) rotate(-90)" x="-296.2" y="0" font-size="66.7" textLength="592.0" lengthAdjust="spacing">Concentration of HMs</text>
<text transform="translate(139.5,2619) rotate(-90)" x="-107.6" y="0" font-size="66.7">(mg/kg)</text>
<text transform="translate(1822.5,2579.75) rotate(-90)" x="-339.8" y="0" font-size="66.7">Contribution of HMs (%)</text>
<rect x="348.0" y="3523.3" width="66" height="233.9" fill="#a9d5d1" stroke="#3c479b" stroke-width="3.4" clip-path="url(#clip3112)"/>
<rect x="482.8" y="3434.3" width="66" height="322.9" fill="#a9d5d1" stroke="#3c479b" stroke-width="3.4" clip-path="url(#clip3112)"/>
<rect x="617.6" y="3457.9" width="66" height="299.3" fill="#a9d5d1" stroke="#3c479b" stroke-width="3.4" clip-path="url(#clip3112)"/>
<rect x="752.3" y="3287.2" width="66" height="470.0" fill="#a9d5d1" stroke="#3c479b" stroke-width="3.4" clip-path="url(#clip3112)"/>
<rect x="887.1" y="3448.2" width="66" height="309.0" fill="#a9d5d1" stroke="#3c479b" stroke-width="3.4" clip-path="url(#clip3112)"/>
<rect x="1021.9" y="3513.0" width="66" height="244.2" fill="#a9d5d1" stroke="#3c479b" stroke-width="3.4" clip-path="url(#clip3112)"/>
<rect x="1156.7" y="3486.4" width="66" height="270.8" fill="#a9d5d1" stroke="#3c479b" stroke-width="3.4" clip-path="url(#clip3112)"/>
<rect x="1291.5" y="3465.2" width="66" height="292.0" fill="#a9d5d1" stroke="#3c479b" stroke-width="3.4" clip-path="url(#clip3112)"/>
<rect x="1426.2" y="3463.4" width="66" height="293.8" fill="#a9d5d1" stroke="#3c479b" stroke-width="3.4" clip-path="url(#clip3112)"/>
<rect x="360.8" y="3254.8" width="38.4" height="38.4" fill="#e6352b" clip-path="url(#clip3112)"/>
<rect x="495.3" y="3707.0" width="38.4" height="38.4" fill="#e6352b" clip-path="url(#clip3112)"/>
<rect x="630.3" y="3716.5" width="38.4" height="38.4" fill="#e6352b" clip-path="url(#clip3112)"/>
<rect x="765.3" y="3727.5" width="38.4" height="38.4" fill="#e6352b" clip-path="url(#clip3112)"/>
<rect x="899.8" y="3730.4" width="38.4" height="38.4" fill="#e6352b" clip-path="url(#clip3112)"/>
<rect x="1034.8" y="3728.0" width="38.4" height="38.4" fill="#e6352b" clip-path="url(#clip3112)"/>
<rect x="1169.8" y="3710.5" width="38.4" height="38.4" fill="#e6352b" clip-path="url(#clip3112)"/>
<rect x="1304.8" y="3725.6" width="38.4" height="38.4" fill="#e6352b" clip-path="url(#clip3112)"/>
<rect x="1439.2" y="3679.8" width="38.4" height="38.4" fill="#e6352b" clip-path="url(#clip3112)"/>
<path d="M313.5,3751.5 V3112.5 H1526.8 V3751.5" stroke="#000" stroke-width="3.2" fill="none"/>
<path d="M290.0,3751.5 H1551.8" stroke="#000" stroke-width="3.2" fill="none"/>
<path d="M290.0,3165.0 H313.5" stroke="#000" stroke-width="3.2" fill="none"/>
<text x="254.3" y="3162.0" font-size="37">4</text>
<text x="191.3" y="3184.0" font-size="64.5" letter-spacing="-4">10</text>
<path d="M290.0,3238.3 H313.5" stroke="#000" stroke-width="3.2" fill="none"/>
<text x="255.2" y="3235.3" font-size="37">3</text>
<text x="191.3" y="3257.3" font-size="64.5" letter-spacing="-4">10</text>
<path d="M290.0,3311.6 H313.5" stroke="#000" stroke-width="3.2" fill="none"/>
<text x="255.7" y="3308.6" font-size="37">2</text>
<text x="191.3" y="3330.6" font-size="64.5" letter-spacing="-4">10</text>
<path d="M290.0,3384.9 H313.5" stroke="#000" stroke-width="3.2" fill="none"/>
<text x="255.9" y="3381.9" font-size="37">1</text>
<text x="191.3" y="3403.9" font-size="64.5" letter-spacing="-4">10</text>
<path d="M290.0,3458.2 H313.5" stroke="#000" stroke-width="3.2" fill="none"/>
<text x="255.2" y="3455.2" font-size="37">0</text>
<text x="191.3" y="3477.2" font-size="64.5" letter-spacing="-4">10</text>
<path d="M290.0,3531.6 H313.5" stroke="#000" stroke-width="3.2" fill="none"/>
<text x="255.9" y="3528.6" font-size="37">1</text>
<rect x="232.4" y="3515.2" width="19.9" height="2.3" fill="#000"/>
<text x="169.9" y="3550.6" font-size="64.5" letter-spacing="-4">10</text>
<path d="M290.0,3604.9 H313.5" stroke="#000" stroke-width="3.2" fill="none"/>
<text x="255.7" y="3601.9" font-size="37">2</text>
<rect x="232.4" y="3588.5" width="19.9" height="2.3" fill="#000"/>
<text x="169.9" y="3623.9" font-size="64.5" letter-spacing="-4">10</text>
<path d="M290.0,3678.2 H313.5" stroke="#000" stroke-width="3.2" fill="none"/>
<text x="255.2" y="3675.2" font-size="37">3</text>
<rect x="232.4" y="3661.8" width="19.9" height="2.3" fill="#000"/>
<text x="169.9" y="3697.2" font-size="64.5" letter-spacing="-4">10</text>
<text x="254.3" y="3748.5" font-size="37">4</text>
<rect x="232.4" y="3735.1" width="19.9" height="2.3" fill="#000"/>
<text x="169.9" y="3770.5" font-size="64.5" letter-spacing="-4">10</text>
<path d="M1526.8,3112.5 H1551.8" stroke="#000" stroke-width="3.2" fill="none"/>
<text x="1562.7" y="3126.0" font-size="66.7">100.00</text>
<path d="M1526.8,3240.3 H1551.8" stroke="#000" stroke-width="3.2" fill="none"/>
<text x="1596.1" y="3253.8" font-size="66.7">80.00</text>
<path d="M1526.8,3368.1 H1551.8" stroke="#000" stroke-width="3.2" fill="none"/>
<text x="1596.1" y="3381.6" font-size="66.7">60.00</text>
<path d="M1526.8,3495.9 H1551.8" stroke="#000" stroke-width="3.2" fill="none"/>
<text x="1596.1" y="3509.4" font-size="66.7">40.00</text>
<path d="M1526.8,3623.7 H1551.8" stroke="#000" stroke-width="3.2" fill="none"/>
<text x="1596.1" y="3637.2" font-size="66.7">20.00</text>
<text x="1629.4" y="3765.0" font-size="66.7">0.00</text>
<path d="M380.2,3751.5 V3774.5" stroke="#000" stroke-width="3.2" fill="none"/>
<text x="343.3" y="3832.0" font-size="66.7">Cd</text>
<path d="M515.0,3751.5 V3774.5" stroke="#000" stroke-width="3.2" fill="none"/>
<text x="478.3" y="3832.0" font-size="66.7">Cr</text>
<path d="M649.8,3751.5 V3774.5" stroke="#000" stroke-width="3.2" fill="none"/>
<text x="612.8" y="3832.0" font-size="66.7">Cu</text>
<path d="M784.5,3751.5 V3774.5" stroke="#000" stroke-width="3.2" fill="none"/>
<text x="747.5" y="3832.0" font-size="66.7">Fe</text>
<path d="M919.3,3751.5 V3774.5" stroke="#000" stroke-width="3.2" fill="none"/>
<text x="882.9" y="3832.0" font-size="66.7">Mn</text>
<path d="M1054.1,3751.5 V3774.5" stroke="#000" stroke-width="3.2" fill="none"/>
<text x="1017.5" y="3832.0" font-size="66.7">Ni</text>
<path d="M1188.9,3751.5 V3774.5" stroke="#000" stroke-width="3.2" fill="none"/>
<text x="1151.5" y="3832.0" font-size="66.7">Pb</text>
<path d="M1323.7,3751.5 V3774.5" stroke="#000" stroke-width="3.2" fill="none"/>
<text x="1285.0" y="3832.0" font-size="66.7">Zn</text>
<path d="M1458.4,3751.5 V3774.5" stroke="#000" stroke-width="3.2" fill="none"/>
<text x="1422.3" y="3832.0" font-size="66.7">As</text>
<text x="1149.7" y="3177.8" font-size="66.7">(g)</text>
<text x="1252.4" y="3177.8" font-size="66.7">Factor 3</text>
<text transform="translate(73.8,3424.9) rotate(-90)" x="-310.1" y="0" font-size="66.7" textLength="619.8" lengthAdjust="spacing">Concentration of HMs</text>
<text transform="translate(146,3438) rotate(-90)" x="-107.6" y="0" font-size="66.7">(mg/kg)</text>
<text transform="translate(1822.5,3433.0) rotate(-90)" x="-339.8" y="0" font-size="66.7">Contribution of HMs (%)</text>
<rect x="481.8" y="4240.5" width="66" height="377.2" fill="#a9d5d1" stroke="#3c479b" stroke-width="3.4" clip-path="url(#clip3974)"/>
<rect x="616.6" y="4246.4" width="66" height="371.3" fill="#a9d5d1" stroke="#3c479b" stroke-width="3.4" clip-path="url(#clip3974)"/>
<rect x="751.3" y="4049.9" width="66" height="567.8" fill="#a9d5d1" stroke="#3c479b" stroke-width="3.4" clip-path="url(#clip3974)"/>
<rect x="886.1" y="4159.9" width="66" height="457.8" fill="#a9d5d1" stroke="#3c479b" stroke-width="3.4" clip-path="url(#clip3974)"/>
<rect x="1020.9" y="4269.5" width="66" height="348.2" fill="#a9d5d1" stroke="#3c479b" stroke-width="3.4" clip-path="url(#clip3974)"/>
<rect x="1155.7" y="4304.7" width="66" height="313.0" fill="#a9d5d1" stroke="#3c479b" stroke-width="3.4" clip-path="url(#clip3974)"/>
<rect x="1290.5" y="4219.2" width="66" height="398.5" fill="#a9d5d1" stroke="#3c479b" stroke-width="3.4" clip-path="url(#clip3974)"/>
<rect x="1425.2" y="4259.7" width="66" height="358.0" fill="#a9d5d1" stroke="#3c479b" stroke-width="3.4" clip-path="url(#clip3974)"/>
<rect x="360.3" y="4593.5" width="38.4" height="38.4" fill="#e6352b" clip-path="url(#clip3974)"/>
<rect x="495.1" y="4454.1" width="38.4" height="38.4" fill="#e6352b" clip-path="url(#clip3974)"/>
<rect x="630.0" y="4439.0" width="38.4" height="38.4" fill="#e6352b" clip-path="url(#clip3974)"/>
<rect x="765.0" y="4476.8" width="38.4" height="38.4" fill="#e6352b" clip-path="url(#clip3974)"/>
<rect x="899.2" y="4450.2" width="38.4" height="38.4" fill="#e6352b" clip-path="url(#clip3974)"/>
<rect x="1033.6" y="4470.1" width="38.4" height="38.4" fill="#e6352b" clip-path="url(#clip3974)"/>
<rect x="1168.6" y="4511.8" width="38.4" height="38.4" fill="#e6352b" clip-path="url(#clip3974)"/>
<rect x="1303.6" y="4416.8" width="38.4" height="38.4" fill="#e6352b" clip-path="url(#clip3974)"/>
<rect x="1437.8" y="4202.6" width="38.4" height="38.4" fill="#e6352b" clip-path="url(#clip3974)"/>
<path d="M313.5,4612 V3974 H1525 V4612" stroke="#000" stroke-width="3.2" fill="none"/>
<path d="M290.0,4612 H1550" stroke="#000" stroke-width="3.2" fill="none"/>
<path d="M290.0,4026.5 H313.5" stroke="#000" stroke-width="3.2" fill="none"/>
<text x="254.3" y="4023.5" font-size="37">4</text>
<text x="191.3" y="4045.5" font-size="64.5" letter-spacing="-4">10</text>
<path d="M290.0,4099.7 H313.5" stroke="#000" stroke-width="3.2" fill="none"/>
<text x="255.2" y="4096.7" font-size="37">3</text>
<text x="191.3" y="4118.7" font-size="64.5" letter-spacing="-4">10</text>
<path d="M290.0,4172.9 H313.5" stroke="#000" stroke-width="3.2" fill="none"/>
<text x="255.7" y="4169.9" font-size="37">2</text>
<text x="191.3" y="4191.9" font-size="64.5" letter-spacing="-4">10</text>
<path d="M290.0,4246.1 H313.5" stroke="#000" stroke-width="3.2" fill="none"/>
<text x="255.9" y="4243.1" font-size="37">1</text>
<text x="191.3" y="4265.1" font-size="64.5" letter-spacing="-4">10</text>
<path d="M290.0,4319.2 H313.5" stroke="#000" stroke-width="3.2" fill="none"/>
<text x="255.2" y="4316.2" font-size="37">0</text>
<text x="191.3" y="4338.2" font-size="64.5" letter-spacing="-4">10</text>
<path d="M290.0,4392.4 H313.5" stroke="#000" stroke-width="3.2" fill="none"/>
<text x="255.9" y="4389.4" font-size="37">1</text>
<rect x="232.4" y="4376.0" width="19.9" height="2.3" fill="#000"/>
<text x="169.9" y="4411.4" font-size="64.5" letter-spacing="-4">10</text>
<path d="M290.0,4465.6 H313.5" stroke="#000" stroke-width="3.2" fill="none"/>
<text x="255.7" y="4462.6" font-size="37">2</text>
<rect x="232.4" y="4449.2" width="19.9" height="2.3" fill="#000"/>
<text x="169.9" y="4484.6" font-size="64.5" letter-spacing="-4">10</text>
<path d="M290.0,4538.8 H313.5" stroke="#000" stroke-width="3.2" fill="none"/>
<text x="255.2" y="4535.8" font-size="37">3</text>
<rect x="232.4" y="4522.4" width="19.9" height="2.3" fill="#000"/>
<text x="169.9" y="4557.8" font-size="64.5" letter-spacing="-4">10</text>
<text x="254.3" y="4609.0" font-size="37">4</text>
<rect x="232.4" y="4595.6" width="19.9" height="2.3" fill="#000"/>
<text x="169.9" y="4631.0" font-size="64.5" letter-spacing="-4">10</text>
<path d="M1525,3974.0 H1550" stroke="#000" stroke-width="3.2" fill="none"/>
<text x="1562.7" y="3987.5" font-size="66.7">100.00</text>
<path d="M1525,4101.6 H1550" stroke="#000" stroke-width="3.2" fill="none"/>
<text x="1596.1" y="4115.1" font-size="66.7">80.00</text>
<path d="M1525,4229.2 H1550" stroke="#000" stroke-width="3.2" fill="none"/>
<text x="1596.1" y="4242.7" font-size="66.7">60.00</text>
<path d="M1525,4356.8 H1550" stroke="#000" stroke-width="3.2" fill="none"/>
<text x="1596.1" y="4370.3" font-size="66.7">40.00</text>
<path d="M1525,4484.4 H1550" stroke="#000" stroke-width="3.2" fill="none"/>
<text x="1596.1" y="4497.9" font-size="66.7">20.00</text>
<text x="1629.4" y="4625.5" font-size="66.7">0.00</text>
<path d="M379.2,4612 V4635" stroke="#000" stroke-width="3.2" fill="none"/>
<text x="343.3" y="4692.5" font-size="66.7">Cd</text>
<path d="M514.0,4612 V4635" stroke="#000" stroke-width="3.2" fill="none"/>
<text x="478.3" y="4692.5" font-size="66.7">Cr</text>
<path d="M648.8,4612 V4635" stroke="#000" stroke-width="3.2" fill="none"/>
<text x="612.8" y="4692.5" font-size="66.7">Cu</text>
<path d="M783.5,4612 V4635" stroke="#000" stroke-width="3.2" fill="none"/>
<text x="747.5" y="4692.5" font-size="66.7">Fe</text>
<path d="M918.3,4612 V4635" stroke="#000" stroke-width="3.2" fill="none"/>
<text x="882.5" y="4692.5" font-size="66.7">Mn</text>
<path d="M1053.1,4612 V4635" stroke="#000" stroke-width="3.2" fill="none"/>
<text x="1017.5" y="4692.5" font-size="66.7">Ni</text>
<path d="M1187.9,4612 V4635" stroke="#000" stroke-width="3.2" fill="none"/>
<text x="1150.7" y="4692.5" font-size="66.7">Pb</text>
<path d="M1322.7,4612 V4635" stroke="#000" stroke-width="3.2" fill="none"/>
<text x="1284.0" y="4692.5" font-size="66.7">Zn</text>
<path d="M1457.4,4612 V4635" stroke="#000" stroke-width="3.2" fill="none"/>
<text x="1421.3" y="4692.5" font-size="66.7">As</text>
<text x="1175.7" y="4043.8" font-size="66.7">(i)</text>
<text x="1259.6" y="4043.8" font-size="66.7">Factor 4</text>
<text transform="translate(73.4,4307.8) rotate(-90)" x="-305.5" y="0" font-size="66.7" textLength="610.6" lengthAdjust="spacing">Concentration of HMs</text>
<text transform="translate(146,4316.2) rotate(-90)" x="-107.6" y="0" font-size="66.7">(mg/kg)</text>
<text transform="translate(1817.5,4294.0) rotate(-90)" x="-339.8" y="0" font-size="66.7">Contribution of HMs (%)</text>
<rect x="1933.3" y="1359.3" width="1362.2" height="679.5" fill="none" stroke="#000" stroke-width="2.8"/>
<g transform="translate(0,0)">
<g clip-path="url(#mapclip)"><rect x="1930" y="1380" width="1370" height="650" fill="url(#bd)"/><g filter="url(#bl18)"><ellipse cx="2270" cy="1900" rx="120" ry="170" fill="#69b13f" opacity="1" transform="rotate(0 2270 1900)"/><ellipse cx="2120" cy="1775" rx="100" ry="70" fill="#8cc050" opacity="1" transform="rotate(30 2120 1775)"/><circle cx="2040" cy="1720" r="60" fill="#a8d060" opacity="1"/><circle cx="2030" cy="1657" r="36" fill="#f0ec84" opacity="1"/><circle cx="2075" cy="1615" r="25" fill="#e8e880" opacity="1"/><circle cx="2100" cy="1560" r="40" fill="#c0d870" opacity="1"/><circle cx="2190" cy="1590" r="45" fill="#68b040" opacity="1"/><circle cx="2254" cy="1654" r="28" fill="#4a7a90" opacity="1"/><circle cx="2350" cy="1530" r="22" fill="#46508a" opacity="1"/><circle cx="2300" cy="1590" r="35" fill="#58a070" opacity="1"/><circle cx="2478" cy="1540" r="28" fill="#5aa870" opacity="1"/><circle cx="2420" cy="1500" r="30" fill="#4a8090" opacity="1"/><ellipse cx="2639" cy="1503" rx="24" ry="32" fill="#3f2f66" opacity="1" transform="rotate(0 2639 1503)"/><ellipse cx="2657" cy="1636" rx="34" ry="24" fill="#3f2c60" opacity="1" transform="rotate(0 2657 1636)"/><circle cx="2663" cy="1567" r="26" fill="#70b450" opacity="1"/><circle cx="2946" cy="1540" r="42" fill="#3f3474" opacity="1"/><circle cx="3250" cy="1540" r="50" fill="#3c2850" opacity="1"/><circle cx="2760" cy="1530" r="35" fill="#4a8494" opacity="1"/><circle cx="3000" cy="1440" r="50" fill="#48608c" opacity="1"/></g><g filter="url(#bl6)"><circle cx="2662" cy="1566" r="8" fill="#f0f080" opacity="1"/><circle cx="2221" cy="1722" r="16" fill="#a8d068" opacity="1"/><circle cx="2284" cy="1967" r="20" fill="#88c050" opacity="1"/><circle cx="2090" cy="1625" r="10" fill="#f0ec88" opacity="1"/><circle cx="2166" cy="1552" r="7" fill="#f0f0a0" opacity="1"/><circle cx="2145" cy="1560" r="9" fill="#d8e480" opacity="1"/><circle cx="2199" cy="1531" r="6" fill="#f0f0a0" opacity="1"/><circle cx="2182" cy="1536" r="8" fill="#4a6a98" opacity="1"/><circle cx="2316" cy="1521" r="15" fill="#3f2a58" opacity="1"/><circle cx="2369.6" cy="1558.6" r="13" fill="#62b050" opacity="1"/><circle cx="2639" cy="1505" r="12" fill="#3a2858" opacity="1"/><circle cx="2657" cy="1633" r="12" fill="#3a2858" opacity="1"/></g></g>
<polygon points="1947.7,1571.3 2003.5,1546.7 2068.9,1531.8 2083.9,1493.1 2096.2,1491.8 2120.7,1499.1 2147.9,1497.7 2167.0,1495.3 2170.3,1500.4 2171.1,1507.2 2183.3,1510.0 2218.8,1508.1 2254.2,1503.2 2289.6,1493.6 2300.5,1493.1 2316.8,1499.1 2344.1,1484.1 2368.9,1472.6 2390.0,1479.6 2420.0,1483.5 2447.5,1477.1 2457.3,1466.5 2449.7,1458.0 2453.9,1446.6 2466.6,1450.8 2487.8,1448.3 2521.7,1439.0 2551.4,1438.1 2576.8,1428.4 2594.0,1437.6 2619.0,1438.5 2650.8,1431.7 2691.7,1434.0 2727.3,1431.6 2755.4,1418.8 2776.1,1425.5 2832.4,1423.5 2841.7,1427.6 2896.2,1422.2 2941.2,1407.0 3001.2,1402.3 3061.3,1394.0 3072.6,1397.8 3091.3,1418.4 3121.3,1429.7 3143.9,1444.7 3166.4,1453.3 3192.6,1452.2 3200.2,1457.8 3218.9,1454.8 3245.2,1476.6 3264.0,1502.9 3280.8,1512.3 3285.7,1536.6 3282.7,1561.0 3279.0,1577.9 3226.4,1588.4 3151.4,1603.5 3076.3,1602.3 3012.5,1600.4 2941.2,1591.1 2881.1,1580.6 2824.9,1582.4 2783.6,1591.1 2731.0,1611.7 2709.8,1629.2 2678.0,1638.3 2646.3,1640.5 2605.4,1626.9 2555.6,1608.5 2494.2,1595.8 2449.7,1602.1 2376.7,1608.0 2338.6,1638.0 2297.7,1676.1 2256.9,1719.7 2231.0,1748.3 2225.6,1766.0 2217.4,1781.0 2231.0,1809.6 2235.1,1827.3 2247.4,1845.0 2267.8,1851.8 2281.4,1866.8 2286.9,1880.4 2301.8,1907.7 2304.6,1922.7 2315.5,1934.9 2329.1,1960.8 2332.6,1978.5 2329.1,1989.4 2335.9,2004.4 2330.4,2011.2 2310.0,2018.0 2295.0,2009.8 2280.0,1985.3 2261.0,1974.4 2251.4,1947.2 2243.3,1943.1 2218.8,1907.7 2195.6,1881.8 2183.3,1860.0 2173.8,1849.1 2115.2,1824.6 2049.9,1790.5 2021.3,1756.5 1980.4,1725.2 1960.0,1695.2 1951.8,1689.8 1940.9,1666.6 1946.3,1627.1 1941.4,1598.5" fill="none" stroke="#111" stroke-width="6.2" stroke-linejoin="round"/>
<polygon points="2042.0,1541.6 2072.3,1534.0 2087.4,1538.6 2091.9,1544.0 2111.6,1538.6 2113.1,1532.5 2129.8,1531.9 2146.4,1537.1 2169.1,1529.5 2202.4,1524.3 2217.5,1528.0 2229.6,1543.1 2240.2,1559.8 2266.0,1560.4 2293.2,1558.2 2314.4,1552.2 2335.6,1551.3 2338.6,1559.8 2334.1,1562.8 2323.5,1562.2 2323.5,1568.8 2315.9,1570.4 2320.4,1576.4 2323.5,1590.0 2317.4,1595.5 2308.3,1597.6 2302.3,1606.7 2287.1,1608.2 2282.6,1612.7 2266.0,1612.7 2262.9,1621.8 2250.8,1620.3 2244.8,1627.9 2237.2,1623.3 2235.7,1614.2 2220.6,1615.8 2214.5,1619.7 2184.2,1615.8 2154.0,1610.6 2143.4,1611.2 2141.9,1623.3 2135.8,1627.9 2132.8,1636.9 2123.7,1641.5 2093.4,1646.0 2078.3,1641.5 2063.2,1629.4 2054.1,1623.3 2057.1,1617.3 2081.3,1611.2 2108.6,1602.1 2105.5,1597.6 2087.4,1590.0 2078.3,1582.5 2063.2,1576.4 2051.1,1574.9 2046.5,1570.4 2054.1,1565.8 2060.1,1550.7 2051.1,1544.6" fill="none" stroke="#e8382e" stroke-width="4.8" stroke-linejoin="round"/>
</g>
<text x="1976.4" y="1423.6" font-size="66.7">N</text>
<path d="M2002,1424 L1971,1526.5 L2002,1491.7 Z" fill="#111" stroke="#111" stroke-width="1.5" stroke-linejoin="miter"/><path d="M2002,1424 L2033,1526.5 L2002,1491.7 Z" fill="#fff" stroke="#111" stroke-width="2.6" stroke-linejoin="miter"/>
<text x="3203.9" y="1430.8" font-size="66.7">(d)</text>
<text x="2535.6" y="1737.5" font-size="75">Legend</text>
<text x="2833.4" y="1735.0" font-size="66.7">Value of Factor 1</text>
<rect x="2543.2" y="1784" width="58" height="29" rx="3" fill="none" stroke="#111" stroke-width="5.2"/>
<rect x="2543.2" y="1855.5" width="58" height="29" rx="3" fill="none" stroke="#e8382e" stroke-width="5"/>
<text x="2610.6" y="1812.5" font-size="50">Study area</text>
<text x="2612.3" y="1885.2" font-size="50">Mine area</text>
<rect x="2909.2" y="1794.6" width="53.3" height="74.6" fill="url(#ramp)"/><rect x="2962.5" y="1794.4" width="4" height="2.4" fill="#000"/><rect x="2962.5" y="1830.7" width="4" height="2.4" fill="#000"/><rect x="2962.5" y="1867.0" width="4" height="2.4" fill="#000"/>
<text x="2977.9" y="1805.3" font-size="50">High: 2.39</text>
<text x="2977.9" y="1880.3" font-size="50">Low: −0.19</text>
<text x="2902.4" y="1977.2" font-size="50">0</text>
<text x="3021.0" y="1977.2" font-size="50">4 km</text>
<path d="M2912.6,1989.3 V2010 H3043.3 V1989.3" fill="none" stroke="#111" stroke-width="3.4"/>
<rect x="1933.3" y="2233.3" width="1362.2" height="679.5" fill="none" stroke="#000" stroke-width="2.8"/>
<g transform="translate(-1,873.5)">
<g clip-path="url(#mapclip)"><rect x="1930" y="1380" width="1370" height="650" fill="url(#bf)"/><g filter="url(#bl18)"><circle cx="2110" cy="1590" r="60" fill="#3c2c5e" opacity="1"/><circle cx="2060" cy="1640" r="40" fill="#3c2c5e" opacity="1"/><circle cx="2000" cy="1600" r="50" fill="#454884" opacity="1"/><ellipse cx="2030" cy="1720" rx="60" ry="50" fill="#46648e" opacity="1" transform="rotate(40 2030 1720)"/><circle cx="2061" cy="1715" r="22" fill="#58a850" opacity="1"/><circle cx="2192" cy="1666" r="40" fill="#4a8a98" opacity="1"/><ellipse cx="2105" cy="1765" rx="55" ry="40" fill="#4a7e94" opacity="1" transform="rotate(0 2105 1765)"/><circle cx="2186" cy="1742" r="36" fill="#6ab440" opacity="1"/><circle cx="2150" cy="1792" r="36" fill="#62ac48" opacity="1"/><circle cx="2195" cy="1700" r="32" fill="#5cab50" opacity="1"/><circle cx="2118" cy="1812" r="24" fill="#58a858" opacity="1"/><ellipse cx="2130" cy="1512" rx="45" ry="16" fill="#4a7c96" opacity="1" transform="rotate(0 2130 1512)"/><circle cx="2197" cy="1821" r="26" fill="#3f3474" opacity="1"/><circle cx="2260" cy="1880" r="26" fill="#3c2c64" opacity="1"/><circle cx="2235" cy="1850" r="25" fill="#4a8090" opacity="1"/><circle cx="2289" cy="1957" r="30" fill="#68b040" opacity="1"/><circle cx="2310" cy="2000" r="20" fill="#58a060" opacity="1"/><circle cx="2250" cy="1780" r="25" fill="#58a060" opacity="1"/><circle cx="2270" cy="1925" r="18" fill="#4a8a90" opacity="1"/><circle cx="2372" cy="1542" r="26" fill="#4a6a98" opacity="1"/><circle cx="2294" cy="1618" r="28" fill="#98c858" opacity="1"/><circle cx="2120" cy="1700" r="30" fill="#4a8094" opacity="1"/><circle cx="2240" cy="1530" r="30" fill="#4e8894" opacity="1"/><circle cx="2290" cy="1545" r="22" fill="#6ab040" opacity="1"/><circle cx="2851" cy="1529" r="32" fill="#58a868" opacity="1"/><circle cx="3031" cy="1555" r="28" fill="#ccdc78" opacity="1"/><circle cx="3245" cy="1540" r="40" fill="#f0ec84" opacity="1"/><circle cx="2150" cy="1520" r="40" fill="#4a7494" opacity="1"/></g><g filter="url(#bl6)"><circle cx="2376" cy="1530" r="9" fill="#3f3a78" opacity="1"/><circle cx="2366" cy="1556" r="9" fill="#3f3a78" opacity="1"/><circle cx="2637.6" cy="1545" r="6" fill="#4a7a98" opacity="1"/><circle cx="2637.6" cy="1506" r="12" fill="#e0e890" opacity="1"/><circle cx="2584" cy="1550" r="12" fill="#c8dc80" opacity="1"/><circle cx="2666.6" cy="1571" r="8" fill="#f0f090" opacity="1"/><circle cx="2180" cy="1552" r="9" fill="#3a2a55" opacity="1"/><circle cx="2140" cy="1575" r="12" fill="#3a2a55" opacity="1"/><circle cx="2190" cy="1530" r="6" fill="#e8e870" opacity="1"/><circle cx="2319" cy="1609" r="14" fill="#c0dc78" opacity="1"/></g></g>
<polygon points="1947.7,1571.3 2003.5,1546.7 2068.9,1531.8 2083.9,1493.1 2096.2,1491.8 2120.7,1499.1 2147.9,1497.7 2167.0,1495.3 2170.3,1500.4 2171.1,1507.2 2183.3,1510.0 2218.8,1508.1 2254.2,1503.2 2289.6,1493.6 2300.5,1493.1 2316.8,1499.1 2344.1,1484.1 2368.9,1472.6 2390.0,1479.6 2420.0,1483.5 2447.5,1477.1 2457.3,1466.5 2449.7,1458.0 2453.9,1446.6 2466.6,1450.8 2487.8,1448.3 2521.7,1439.0 2551.4,1438.1 2576.8,1428.4 2594.0,1437.6 2619.0,1438.5 2650.8,1431.7 2691.7,1434.0 2727.3,1431.6 2755.4,1418.8 2776.1,1425.5 2832.4,1423.5 2841.7,1427.6 2896.2,1422.2 2941.2,1407.0 3001.2,1402.3 3061.3,1394.0 3072.6,1397.8 3091.3,1418.4 3121.3,1429.7 3143.9,1444.7 3166.4,1453.3 3192.6,1452.2 3200.2,1457.8 3218.9,1454.8 3245.2,1476.6 3264.0,1502.9 3280.8,1512.3 3285.7,1536.6 3282.7,1561.0 3279.0,1577.9 3226.4,1588.4 3151.4,1603.5 3076.3,1602.3 3012.5,1600.4 2941.2,1591.1 2881.1,1580.6 2824.9,1582.4 2783.6,1591.1 2731.0,1611.7 2709.8,1629.2 2678.0,1638.3 2646.3,1640.5 2605.4,1626.9 2555.6,1608.5 2494.2,1595.8 2449.7,1602.1 2376.7,1608.0 2338.6,1638.0 2297.7,1676.1 2256.9,1719.7 2231.0,1748.3 2225.6,1766.0 2217.4,1781.0 2231.0,1809.6 2235.1,1827.3 2247.4,1845.0 2267.8,1851.8 2281.4,1866.8 2286.9,1880.4 2301.8,1907.7 2304.6,1922.7 2315.5,1934.9 2329.1,1960.8 2332.6,1978.5 2329.1,1989.4 2335.9,2004.4 2330.4,2011.2 2310.0,2018.0 2295.0,2009.8 2280.0,1985.3 2261.0,1974.4 2251.4,1947.2 2243.3,1943.1 2218.8,1907.7 2195.6,1881.8 2183.3,1860.0 2173.8,1849.1 2115.2,1824.6 2049.9,1790.5 2021.3,1756.5 1980.4,1725.2 1960.0,1695.2 1951.8,1689.8 1940.9,1666.6 1946.3,1627.1 1941.4,1598.5" fill="none" stroke="#111" stroke-width="6.2" stroke-linejoin="round"/>
<polygon points="2042.0,1541.6 2072.3,1534.0 2087.4,1538.6 2091.9,1544.0 2111.6,1538.6 2113.1,1532.5 2129.8,1531.9 2146.4,1537.1 2169.1,1529.5 2202.4,1524.3 2217.5,1528.0 2229.6,1543.1 2240.2,1559.8 2266.0,1560.4 2293.2,1558.2 2314.4,1552.2 2335.6,1551.3 2338.6,1559.8 2334.1,1562.8 2323.5,1562.2 2323.5,1568.8 2315.9,1570.4 2320.4,1576.4 2323.5,1590.0 2317.4,1595.5 2308.3,1597.6 2302.3,1606.7 2287.1,1608.2 2282.6,1612.7 2266.0,1612.7 2262.9,1621.8 2250.8,1620.3 2244.8,1627.9 2237.2,1623.3 2235.7,1614.2 2220.6,1615.8 2214.5,1619.7 2184.2,1615.8 2154.0,1610.6 2143.4,1611.2 2141.9,1623.3 2135.8,1627.9 2132.8,1636.9 2123.7,1641.5 2093.4,1646.0 2078.3,1641.5 2063.2,1629.4 2054.1,1623.3 2057.1,1617.3 2081.3,1611.2 2108.6,1602.1 2105.5,1597.6 2087.4,1590.0 2078.3,1582.5 2063.2,1576.4 2051.1,1574.9 2046.5,1570.4 2054.1,1565.8 2060.1,1550.7 2051.1,1544.6" fill="none" stroke="#e8382e" stroke-width="4.8" stroke-linejoin="round"/>
</g>
<text x="3204.4" y="2301.3" font-size="66.7">(f)</text>
<text x="2766.9" y="2605.3" font-size="66.7">Value of Factor 2</text>
<rect x="2907.5" y="2655.2" width="53.3" height="82.6" fill="url(#ramp)"/><rect x="2960.8" y="2655.0" width="4" height="2.4" fill="#000"/><rect x="2960.8" y="2695.3" width="4" height="2.4" fill="#000"/><rect x="2960.8" y="2735.6" width="4" height="2.4" fill="#000"/>
<text x="2976.2" y="2669.1" font-size="50">High: 3.16</text>
<text x="2979.2" y="2751.7" font-size="50">Low: −0.20</text>
<path d="M1999,2354.5 L2003,2357 L1999.5,2359.5 Z" fill="#111"/>
<rect x="1933.3" y="3112.6" width="1362.2" height="679.5" fill="none" stroke="#000" stroke-width="2.8"/>
<g transform="translate(-1,1753)">
<g clip-path="url(#mapclip)"><rect x="1930" y="1380" width="1370" height="650" fill="url(#bh)"/><g filter="url(#bl18)"><circle cx="1998" cy="1647" r="50" fill="#a4cc60" opacity="1"/><circle cx="2060" cy="1720" r="40" fill="#acd064" opacity="1"/><circle cx="2240" cy="1690" r="24" fill="#60ac40" opacity="1"/><circle cx="2429" cy="1555" r="40" fill="#70b444" opacity="1"/><circle cx="2531" cy="1550" r="26" fill="#ece880" opacity="1"/><circle cx="2269" cy="1535" r="18" fill="#e4e67c" opacity="1"/><circle cx="3127" cy="1560" r="30" fill="#f0ec84" opacity="1"/><circle cx="2761" cy="1531" r="34" fill="#dce47c" opacity="1"/><circle cx="2851" cy="1523" r="34" fill="#d8e27a" opacity="1"/><circle cx="3031" cy="1557" r="30" fill="#dce47c" opacity="1"/><circle cx="2666" cy="1613" r="22" fill="#e4e880" opacity="1"/><circle cx="2941" cy="1542" r="30" fill="#98c858" opacity="1"/><circle cx="3076" cy="1441" r="50" fill="#a0cc5c" opacity="1"/><circle cx="2260" cy="1640" r="22" fill="#dce47c" opacity="1"/><circle cx="2310" cy="1500" r="18" fill="#70b444" opacity="1"/><circle cx="3180" cy="1500" r="40" fill="#78b84c" opacity="1"/></g><g filter="url(#bl6)"><circle cx="3244" cy="1541" r="82" fill="#8cc254" opacity="1"/><circle cx="3244" cy="1541" r="74" fill="#70b448" opacity="1"/><circle cx="3244" cy="1541" r="66" fill="#60aa50" opacity="1"/><circle cx="3244" cy="1541" r="59" fill="#52a078" opacity="1"/><circle cx="3244" cy="1541" r="52" fill="#4a8090" opacity="1"/><circle cx="3244" cy="1541" r="45" fill="#44588a" opacity="1"/><circle cx="3244" cy="1541" r="38" fill="#3f3c74" opacity="1"/><circle cx="3244" cy="1541" r="31" fill="#3a2a52" opacity="1"/><circle cx="2429" cy="1555" r="9" fill="#4a8a98" opacity="1"/><circle cx="2666" cy="1567" r="4" fill="#70b040" opacity="1"/><circle cx="2180" cy="1548" r="6" fill="#f0f0a0" opacity="1"/><circle cx="2150" cy="1570" r="10" fill="#98c858" opacity="1"/></g></g>
<polygon points="1947.7,1571.3 2003.5,1546.7 2068.9,1531.8 2083.9,1493.1 2096.2,1491.8 2120.7,1499.1 2147.9,1497.7 2167.0,1495.3 2170.3,1500.4 2171.1,1507.2 2183.3,1510.0 2218.8,1508.1 2254.2,1503.2 2289.6,1493.6 2300.5,1493.1 2316.8,1499.1 2344.1,1484.1 2368.9,1472.6 2390.0,1479.6 2420.0,1483.5 2447.5,1477.1 2457.3,1466.5 2449.7,1458.0 2453.9,1446.6 2466.6,1450.8 2487.8,1448.3 2521.7,1439.0 2551.4,1438.1 2576.8,1428.4 2594.0,1437.6 2619.0,1438.5 2650.8,1431.7 2691.7,1434.0 2727.3,1431.6 2755.4,1418.8 2776.1,1425.5 2832.4,1423.5 2841.7,1427.6 2896.2,1422.2 2941.2,1407.0 3001.2,1402.3 3061.3,1394.0 3072.6,1397.8 3091.3,1418.4 3121.3,1429.7 3143.9,1444.7 3166.4,1453.3 3192.6,1452.2 3200.2,1457.8 3218.9,1454.8 3245.2,1476.6 3264.0,1502.9 3280.8,1512.3 3285.7,1536.6 3282.7,1561.0 3279.0,1577.9 3226.4,1588.4 3151.4,1603.5 3076.3,1602.3 3012.5,1600.4 2941.2,1591.1 2881.1,1580.6 2824.9,1582.4 2783.6,1591.1 2731.0,1611.7 2709.8,1629.2 2678.0,1638.3 2646.3,1640.5 2605.4,1626.9 2555.6,1608.5 2494.2,1595.8 2449.7,1602.1 2376.7,1608.0 2338.6,1638.0 2297.7,1676.1 2256.9,1719.7 2231.0,1748.3 2225.6,1766.0 2217.4,1781.0 2231.0,1809.6 2235.1,1827.3 2247.4,1845.0 2267.8,1851.8 2281.4,1866.8 2286.9,1880.4 2301.8,1907.7 2304.6,1922.7 2315.5,1934.9 2329.1,1960.8 2332.6,1978.5 2329.1,1989.4 2335.9,2004.4 2330.4,2011.2 2310.0,2018.0 2295.0,2009.8 2280.0,1985.3 2261.0,1974.4 2251.4,1947.2 2243.3,1943.1 2218.8,1907.7 2195.6,1881.8 2183.3,1860.0 2173.8,1849.1 2115.2,1824.6 2049.9,1790.5 2021.3,1756.5 1980.4,1725.2 1960.0,1695.2 1951.8,1689.8 1940.9,1666.6 1946.3,1627.1 1941.4,1598.5" fill="none" stroke="#111" stroke-width="6.2" stroke-linejoin="round"/>
<polygon points="2042.0,1541.6 2072.3,1534.0 2087.4,1538.6 2091.9,1544.0 2111.6,1538.6 2113.1,1532.5 2129.8,1531.9 2146.4,1537.1 2169.1,1529.5 2202.4,1524.3 2217.5,1528.0 2229.6,1543.1 2240.2,1559.8 2266.0,1560.4 2293.2,1558.2 2314.4,1552.2 2335.6,1551.3 2338.6,1559.8 2334.1,1562.8 2323.5,1562.2 2323.5,1568.8 2315.9,1570.4 2320.4,1576.4 2323.5,1590.0 2317.4,1595.5 2308.3,1597.6 2302.3,1606.7 2287.1,1608.2 2282.6,1612.7 2266.0,1612.7 2262.9,1621.8 2250.8,1620.3 2244.8,1627.9 2237.2,1623.3 2235.7,1614.2 2220.6,1615.8 2214.5,1619.7 2184.2,1615.8 2154.0,1610.6 2143.4,1611.2 2141.9,1623.3 2135.8,1627.9 2132.8,1636.9 2123.7,1641.5 2093.4,1646.0 2078.3,1641.5 2063.2,1629.4 2054.1,1623.3 2057.1,1617.3 2081.3,1611.2 2108.6,1602.1 2105.5,1597.6 2087.4,1590.0 2078.3,1582.5 2063.2,1576.4 2051.1,1574.9 2046.5,1570.4 2054.1,1565.8 2060.1,1550.7 2051.1,1544.6" fill="none" stroke="#e8382e" stroke-width="4.8" stroke-linejoin="round"/>
</g>
<text x="3199.9" y="3180.7" font-size="66.7">(h)</text>
<text x="2774.4" y="3480.9" font-size="66.7">Value of Factor 3</text>
<rect x="2908.3" y="3535.4" width="53.3" height="82.5" fill="url(#ramp)"/><rect x="2961.6000000000004" y="3535.2" width="4" height="2.4" fill="#000"/><rect x="2961.6000000000004" y="3575.5" width="4" height="2.4" fill="#000"/><rect x="2961.6000000000004" y="3615.7" width="4" height="2.4" fill="#000"/>
<text x="2976.2" y="3549.2" font-size="50">High: 7.98</text>
<text x="2976.2" y="3631.0" font-size="50">Low: −0.06</text>
<rect x="1932.8999999999999" y="3955.5" width="1362.2" height="679.5" fill="none" stroke="#000" stroke-width="2.8"/>
<g transform="translate(-0.7,2595)">
<g clip-path="url(#mapclip)"><rect x="1930" y="1380" width="1370" height="650" fill="url(#bj)"/><g filter="url(#bl18)"><circle cx="2150" cy="1577" r="50" fill="#9ccb58" opacity="1"/><circle cx="2112" cy="1600" r="24" fill="#c4da70" opacity="1"/><ellipse cx="2070" cy="1750" rx="150" ry="80" fill="#4a7a92" opacity="1" transform="rotate(35 2070 1750)"/><ellipse cx="2262" cy="1890" rx="50" ry="110" fill="#4a8a8e" opacity="1" transform="rotate(-20 2262 1890)"/><circle cx="2167" cy="1742" r="45" fill="#4a8890" opacity="1"/><circle cx="2191" cy="1791" r="30" fill="#4a8890" opacity="1"/><circle cx="2058" cy="1722" r="32" fill="#3a2a55" opacity="1"/><circle cx="2146" cy="1790" r="30" fill="#3c2c5c" opacity="1"/><circle cx="2219" cy="1716" r="22" fill="#423c7a" opacity="1"/><circle cx="2240" cy="1689" r="18" fill="#4a6a92" opacity="1"/><circle cx="2029" cy="1654" r="18" fill="#46508a" opacity="1"/><circle cx="1975" cy="1660" r="30" fill="#4e8c8c" opacity="1"/><circle cx="2199" cy="1824" r="20" fill="#88c050" opacity="1"/><circle cx="2250" cy="1880" r="40" fill="#4a8a90" opacity="1"/><circle cx="2286" cy="1964" r="30" fill="#46708e" opacity="1"/><circle cx="2315" cy="2005" r="18" fill="#58a850" opacity="1"/><circle cx="2260" cy="1770" r="25" fill="#4e8c88" opacity="1"/><circle cx="2150" cy="1690" r="40" fill="#68b040" opacity="1"/><circle cx="2290" cy="1650" r="30" fill="#62ac48" opacity="1"/><circle cx="2519" cy="1528" r="30" fill="#4a8a90" opacity="1"/><circle cx="3036" cy="1552" r="50" fill="#58a46c" opacity="1"/><circle cx="3036" cy="1552" r="30" fill="#4a7a8c" opacity="1"/><circle cx="3243" cy="1544" r="38" fill="#f0ec84" opacity="1"/><circle cx="2655" cy="1625" r="20" fill="#e8e880" opacity="1"/><circle cx="2635" cy="1528" r="30" fill="#c0d870" opacity="1"/></g><g filter="url(#bl6)"><circle cx="2519" cy="1528" r="8" fill="#3f3a78" opacity="1"/><circle cx="2638" cy="1526" r="6" fill="#f4f4a0" opacity="1"/><circle cx="2636" cy="1548" r="6" fill="#f0f090" opacity="1"/><circle cx="2664" cy="1568" r="5" fill="#4a8a98" opacity="1"/><circle cx="2168" cy="1552" r="5" fill="#f8f8c0" opacity="1"/><circle cx="2140" cy="1600" r="10" fill="#f0ee90" opacity="1"/><circle cx="2106" cy="1616" r="6" fill="#f0f0a0" opacity="1"/><circle cx="2318" cy="1512" r="10" fill="#f0ee98" opacity="1"/><circle cx="2296" cy="1492" r="10" fill="#4a8a98" opacity="1"/><circle cx="2090" cy="1652" r="7" fill="#46688e" opacity="1"/></g></g>
<polygon points="1947.7,1571.3 2003.5,1546.7 2068.9,1531.8 2083.9,1493.1 2096.2,1491.8 2120.7,1499.1 2147.9,1497.7 2167.0,1495.3 2170.3,1500.4 2171.1,1507.2 2183.3,1510.0 2218.8,1508.1 2254.2,1503.2 2289.6,1493.6 2300.5,1493.1 2316.8,1499.1 2344.1,1484.1 2368.9,1472.6 2390.0,1479.6 2420.0,1483.5 2447.5,1477.1 2457.3,1466.5 2449.7,1458.0 2453.9,1446.6 2466.6,1450.8 2487.8,1448.3 2521.7,1439.0 2551.4,1438.1 2576.8,1428.4 2594.0,1437.6 2619.0,1438.5 2650.8,1431.7 2691.7,1434.0 2727.3,1431.6 2755.4,1418.8 2776.1,1425.5 2832.4,1423.5 2841.7,1427.6 2896.2,1422.2 2941.2,1407.0 3001.2,1402.3 3061.3,1394.0 3072.6,1397.8 3091.3,1418.4 3121.3,1429.7 3143.9,1444.7 3166.4,1453.3 3192.6,1452.2 3200.2,1457.8 3218.9,1454.8 3245.2,1476.6 3264.0,1502.9 3280.8,1512.3 3285.7,1536.6 3282.7,1561.0 3279.0,1577.9 3226.4,1588.4 3151.4,1603.5 3076.3,1602.3 3012.5,1600.4 2941.2,1591.1 2881.1,1580.6 2824.9,1582.4 2783.6,1591.1 2731.0,1611.7 2709.8,1629.2 2678.0,1638.3 2646.3,1640.5 2605.4,1626.9 2555.6,1608.5 2494.2,1595.8 2449.7,1602.1 2376.7,1608.0 2338.6,1638.0 2297.7,1676.1 2256.9,1719.7 2231.0,1748.3 2225.6,1766.0 2217.4,1781.0 2231.0,1809.6 2235.1,1827.3 2247.4,1845.0 2267.8,1851.8 2281.4,1866.8 2286.9,1880.4 2301.8,1907.7 2304.6,1922.7 2315.5,1934.9 2329.1,1960.8 2332.6,1978.5 2329.1,1989.4 2335.9,2004.4 2330.4,2011.2 2310.0,2018.0 2295.0,2009.8 2280.0,1985.3 2261.0,1974.4 2251.4,1947.2 2243.3,1943.1 2218.8,1907.7 2195.6,1881.8 2183.3,1860.0 2173.8,1849.1 2115.2,1824.6 2049.9,1790.5 2021.3,1756.5 1980.4,1725.2 1960.0,1695.2 1951.8,1689.8 1940.9,1666.6 1946.3,1627.1 1941.4,1598.5" fill="none" stroke="#111" stroke-width="6.2" stroke-linejoin="round"/>
<polygon points="2042.0,1541.6 2072.3,1534.0 2087.4,1538.6 2091.9,1544.0 2111.6,1538.6 2113.1,1532.5 2129.8,1531.9 2146.4,1537.1 2169.1,1529.5 2202.4,1524.3 2217.5,1528.0 2229.6,1543.1 2240.2,1559.8 2266.0,1560.4 2293.2,1558.2 2314.4,1552.2 2335.6,1551.3 2338.6,1559.8 2334.1,1562.8 2323.5,1562.2 2323.5,1568.8 2315.9,1570.4 2320.4,1576.4 2323.5,1590.0 2317.4,1595.5 2308.3,1597.6 2302.3,1606.7 2287.1,1608.2 2282.6,1612.7 2266.0,1612.7 2262.9,1621.8 2250.8,1620.3 2244.8,1627.9 2237.2,1623.3 2235.7,1614.2 2220.6,1615.8 2214.5,1619.7 2184.2,1615.8 2154.0,1610.6 2143.4,1611.2 2141.9,1623.3 2135.8,1627.9 2132.8,1636.9 2123.7,1641.5 2093.4,1646.0 2078.3,1641.5 2063.2,1629.4 2054.1,1623.3 2057.1,1617.3 2081.3,1611.2 2108.6,1602.1 2105.5,1597.6 2087.4,1590.0 2078.3,1582.5 2063.2,1576.4 2051.1,1574.9 2046.5,1570.4 2054.1,1565.8 2060.1,1550.7 2051.1,1544.6" fill="none" stroke="#e8382e" stroke-width="4.8" stroke-linejoin="round"/>
</g>
<text x="3213.0" y="4021.9" font-size="66.7">(j)</text>
<text x="2746.2" y="4322.2" font-size="66.7">Value of Factor 4</text>
<rect x="2909.4" y="4377.3" width="53.3" height="83" fill="url(#ramp)"/><rect x="2962.7000000000003" y="4377.1" width="4" height="2.4" fill="#000"/><rect x="2962.7000000000003" y="4417.6" width="4" height="2.4" fill="#000"/><rect x="2962.7000000000003" y="4458.1" width="4" height="2.4" fill="#000"/>
<text x="2990.5" y="4391.6" font-size="50">High: 3.21</text>
<text x="2990.5" y="4472.3" font-size="50">Low: −0.20</text>
</svg>
</body></html>
